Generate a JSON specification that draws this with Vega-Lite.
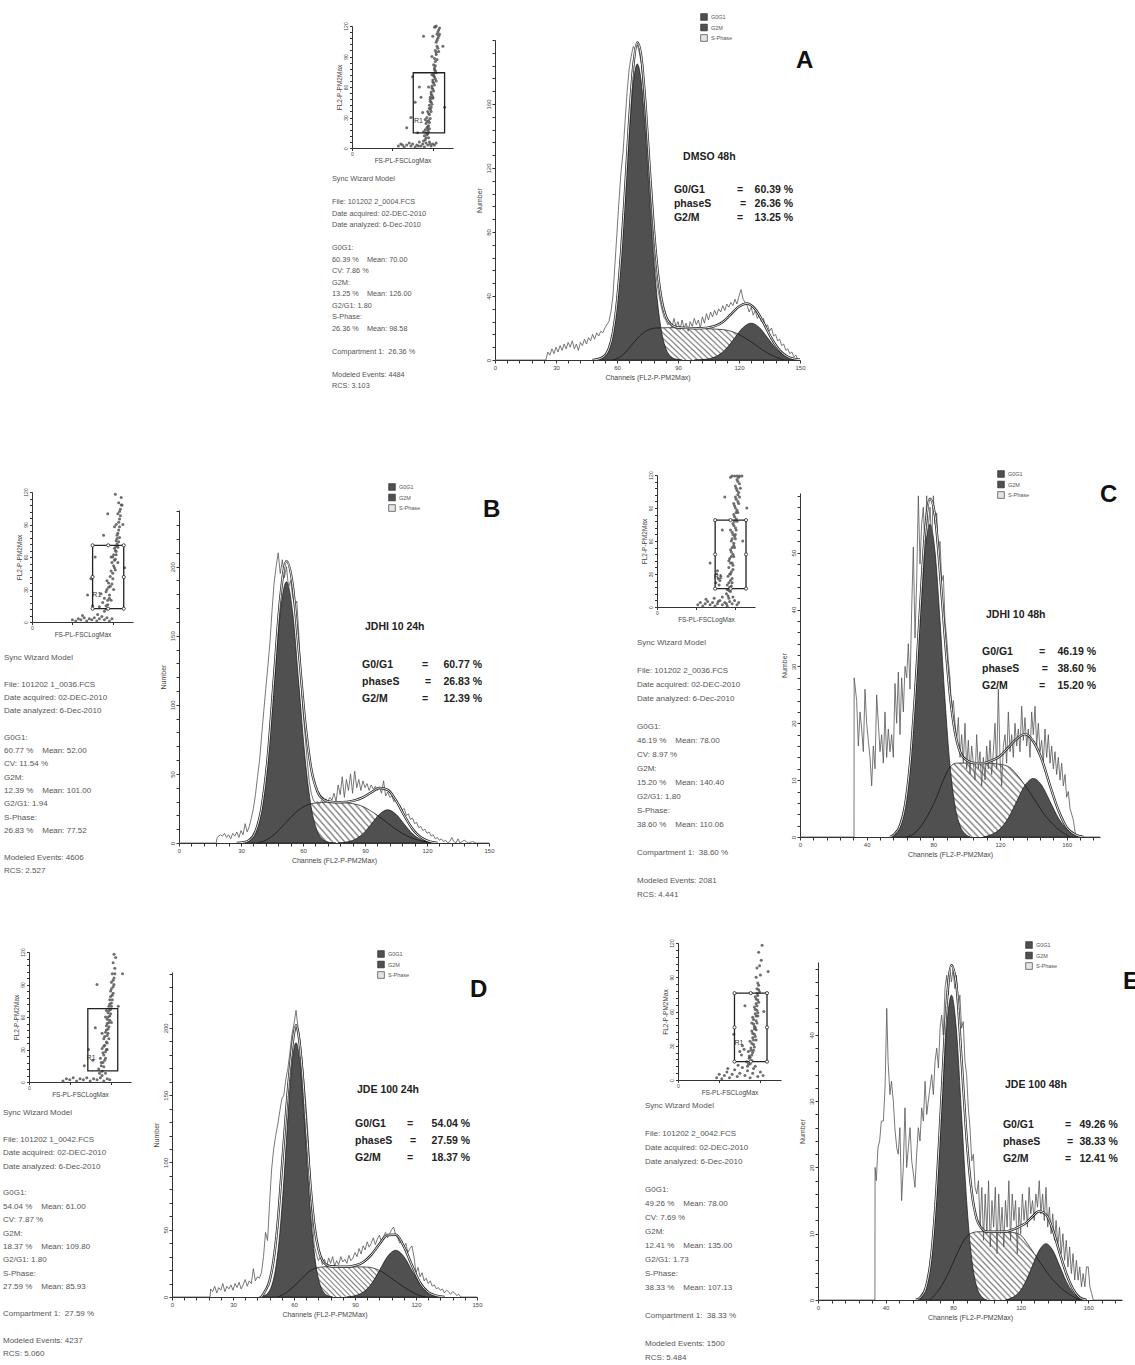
{
"$schema": "https://vega.github.io/schema/vega-lite/v6.json",
"background": "white",
"padding": 0,
"config": {
 "view": {"stroke": null},
 "concat": {"spacing": 0},
 "font": "Liberation Sans",
 "axis": {"grid": false, "labelFont": "Liberation Sans", "titleFont": "Liberation Sans", "labelColor": "#444", "titleColor": "#444", "titleFontWeight": "normal", "tickColor": "#333", "domainColor": "#333", "labelOverlap": false, "labelFlush": false, "labelPadding": 1, "titlePadding": 3, "tickSize": 3, "labelFontSize": 6, "titleFontSize": 7},
 "axisY": {"labelAngle": -90},
 "legend": {"orient": "none", "symbolType": "square", "symbolSize": 45, "symbolStrokeColor": "#222", "symbolStrokeWidth": 0.6, "labelFontSize": 5.5, "labelColor": "#555", "labelFont": "Liberation Sans", "rowPadding": 0.5, "labelOffset": 3, "padding": 0}
},
"datasets": {
 "hA": [
  {"s":"o","x":0,"y":0},{"s":"o","x":25,"y":0},{"s":"o","x":26,"y":5},{"s":"o","x":27,"y":3},{"s":"o","x":28,"y":7},{"s":"o","x":29,"y":4},{"s":"o","x":30,"y":8},{"s":"o","x":31,"y":5},{"s":"o","x":32,"y":9},{"s":"o","x":33,"y":6},{"s":"o","x":34,"y":10},{"s":"o","x":35,"y":7},{"s":"o","x":36,"y":11},{"s":"o","x":37,"y":8},{"s":"o","x":38,"y":12},{"s":"o","x":39,"y":7},{"s":"o","x":40,"y":10},{"s":"o","x":41,"y":6},{"s":"o","x":42,"y":11},{"s":"o","x":43,"y":9},{"s":"o","x":44,"y":13},{"s":"o","x":45,"y":10},{"s":"o","x":46,"y":14},{"s":"o","x":47,"y":12},{"s":"o","x":48,"y":16},{"s":"o","x":49,"y":13},{"s":"o","x":50,"y":17},{"s":"o","x":51,"y":15},{"s":"o","x":52,"y":18},{"s":"o","x":53,"y":17},{"s":"o","x":54,"y":20},{"s":"o","x":55,"y":22},{"s":"o","x":56,"y":24},{"s":"o","x":57,"y":30},{"s":"o","x":58,"y":40},{"s":"o","x":59,"y":60},{"s":"o","x":60,"y":80},{"s":"o","x":61,"y":100},{"s":"o","x":62,"y":118},{"s":"o","x":63,"y":130},{"s":"o","x":64,"y":150},{"s":"o","x":65,"y":168},{"s":"o","x":66,"y":182},{"s":"o","x":67,"y":190},{"s":"o","x":68,"y":196},{"s":"o","x":69,"y":194},{"s":"o","x":70,"y":197},{"s":"o","x":71,"y":192},{"s":"o","x":72,"y":185},{"s":"o","x":73,"y":170},{"s":"o","x":74,"y":150},{"s":"o","x":75,"y":130},{"s":"o","x":76,"y":110},{"s":"o","x":77,"y":88},{"s":"o","x":78,"y":70},{"s":"o","x":79,"y":55},{"s":"o","x":80,"y":45},{"s":"o","x":81,"y":38},{"s":"o","x":82,"y":32},{"s":"o","x":83,"y":27},{"s":"o","x":84,"y":25},{"s":"o","x":85,"y":22},{"s":"o","x":86,"y":24},{"s":"o","x":87,"y":20},{"s":"o","x":88,"y":26},{"s":"o","x":89,"y":21},{"s":"o","x":90,"y":24},{"s":"o","x":91,"y":19},{"s":"o","x":92,"y":25},{"s":"o","x":93,"y":20},{"s":"o","x":94,"y":23},{"s":"o","x":95,"y":18},{"s":"o","x":96,"y":24},{"s":"o","x":97,"y":21},{"s":"o","x":98,"y":26},{"s":"o","x":99,"y":22},{"s":"o","x":100,"y":25},{"s":"o","x":101,"y":20},{"s":"o","x":102,"y":27},{"s":"o","x":103,"y":23},{"s":"o","x":104,"y":29},{"s":"o","x":105,"y":25},{"s":"o","x":106,"y":30},{"s":"o","x":107,"y":27},{"s":"o","x":108,"y":31},{"s":"o","x":109,"y":28},{"s":"o","x":110,"y":32},{"s":"o","x":111,"y":30},{"s":"o","x":112,"y":34},{"s":"o","x":113,"y":31},{"s":"o","x":114,"y":35},{"s":"o","x":115,"y":33},{"s":"o","x":116,"y":36},{"s":"o","x":117,"y":34},{"s":"o","x":118,"y":38},{"s":"o","x":119,"y":35},{"s":"o","x":120,"y":40},{"s":"o","x":121,"y":44},{"s":"o","x":122,"y":38},{"s":"o","x":123,"y":36},{"s":"o","x":124,"y":34},{"s":"o","x":125,"y":30},{"s":"o","x":126,"y":33},{"s":"o","x":127,"y":28},{"s":"o","x":128,"y":31},{"s":"o","x":129,"y":26},{"s":"o","x":130,"y":28},{"s":"o","x":131,"y":24},{"s":"o","x":132,"y":26},{"s":"o","x":133,"y":21},{"s":"o","x":134,"y":22},{"s":"o","x":135,"y":18},{"s":"o","x":136,"y":20},{"s":"o","x":137,"y":15},{"s":"o","x":138,"y":16},{"s":"o","x":139,"y":12},{"s":"o","x":140,"y":13},{"s":"o","x":141,"y":9},{"s":"o","x":142,"y":10},{"s":"o","x":143,"y":6},{"s":"o","x":144,"y":7},{"s":"o","x":145,"y":4},{"s":"o","x":146,"y":5},{"s":"o","x":147,"y":2},{"s":"o","x":148,"y":3},{"s":"o","x":149,"y":0},{"s":"o","x":150,"y":0},
  {"s":"f","x":48,"y":0},{"s":"f","x":50,"y":0.3},{"s":"f","x":54,"y":2.7},{"s":"f","x":56,"y":7.2},{"s":"f","x":58,"y":17.1},{"s":"f","x":60,"y":36.4},{"s":"f","x":62,"y":66.7},{"s":"f","x":64,"y":106.5},{"s":"f","x":66,"y":149.5},{"s":"f","x":68,"y":183.5},{"s":"f","x":70,"y":198.5},{"s":"f","x":72,"y":189},{"s":"f","x":74,"y":160},{"s":"f","x":76,"y":121.2},{"s":"f","x":78,"y":83.9},{"s":"f","x":80,"y":55.4},{"s":"f","x":82,"y":37.2},{"s":"f","x":84,"y":27.4},{"s":"f","x":86,"y":22.9},{"s":"f","x":88,"y":21.1},{"s":"f","x":90,"y":20.3},{"s":"f","x":95,"y":20},{"s":"f","x":100,"y":19.8},{"s":"f","x":104,"y":20.1},{"s":"f","x":108,"y":21.1},{"s":"f","x":112,"y":23.7},{"s":"f","x":116,"y":28.5},{"s":"f","x":120,"y":33.4},{"s":"f","x":124,"y":35.3},{"s":"f","x":126,"y":34.2},{"s":"f","x":128,"y":31.8},{"s":"f","x":132,"y":23.4},{"s":"f","x":136,"y":13.5},{"s":"f","x":140,"y":6},{"s":"f","x":144,"y":2},{"s":"f","x":148,"y":0.5},{"s":"f","x":150,"y":0.2},
  {"s":"G0G1","x":48,"y":0},{"s":"G0G1","x":50,"y":0.3},{"s":"G0G1","x":52,"y":0.9},{"s":"G0G1","x":54,"y":2.7},{"s":"G0G1","x":56,"y":7.2},{"s":"G0G1","x":58,"y":17.1},{"s":"G0G1","x":60,"y":35.4},{"s":"G0G1","x":62,"y":64.2},{"s":"G0G1","x":64,"y":102},{"s":"G0G1","x":66,"y":142},{"s":"G0G1","x":68,"y":173},{"s":"G0G1","x":70,"y":185},{"s":"G0G1","x":72,"y":173},{"s":"G0G1","x":74,"y":142},{"s":"G0G1","x":76,"y":102},{"s":"G0G1","x":78,"y":64.2},{"s":"G0G1","x":80,"y":35.4},{"s":"G0G1","x":82,"y":17.1},{"s":"G0G1","x":84,"y":7.2},{"s":"G0G1","x":86,"y":2.7},{"s":"G0G1","x":88,"y":0.9},{"s":"G0G1","x":90,"y":0.3},{"s":"G0G1","x":92,"y":0},
  {"s":"G2M","x":98,"y":0},{"s":"G2M","x":102,"y":0.25},{"s":"G2M","x":106,"y":1},{"s":"G2M","x":110,"y":3.1},{"s":"G2M","x":114,"y":7.5},{"s":"G2M","x":118,"y":14},{"s":"G2M","x":122,"y":20.3},{"s":"G2M","x":126,"y":23},{"s":"G2M","x":130,"y":20.3},{"s":"G2M","x":134,"y":14},{"s":"G2M","x":138,"y":7.5},{"s":"G2M","x":142,"y":3.1},{"s":"G2M","x":146,"y":1},{"s":"G2M","x":150,"y":0.25},
  {"s":"S-Phase","x":58,"y":0},{"s":"S-Phase","x":61,"y":1.5},{"s":"S-Phase","x":64,"y":4.5},{"s":"S-Phase","x":67,"y":9},{"s":"S-Phase","x":70,"y":13.5},{"s":"S-Phase","x":73,"y":17},{"s":"S-Phase","x":76,"y":19.2},{"s":"S-Phase","x":79,"y":20},{"s":"S-Phase","x":85,"y":20.2},{"s":"S-Phase","x":95,"y":20},{"s":"S-Phase","x":105,"y":19.5},{"s":"S-Phase","x":112,"y":19},{"s":"S-Phase","x":116,"y":18},{"s":"S-Phase","x":120,"y":16},{"s":"S-Phase","x":124,"y":13},{"s":"S-Phase","x":128,"y":9.5},{"s":"S-Phase","x":132,"y":6},{"s":"S-Phase","x":136,"y":3},{"s":"S-Phase","x":140,"y":1},{"s":"S-Phase","x":142,"y":0}
 ],
 "hB": [
  {"s":"o","x":0,"y":0},{"s":"o","x":18,"y":0},{"s":"o","x":18.5,"y":4},{"s":"o","x":20,"y":6},{"s":"o","x":21,"y":5},{"s":"o","x":22,"y":7},{"s":"o","x":23,"y":4},{"s":"o","x":24,"y":6},{"s":"o","x":25,"y":3},{"s":"o","x":26,"y":7},{"s":"o","x":27,"y":5},{"s":"o","x":28,"y":8},{"s":"o","x":29,"y":4},{"s":"o","x":30,"y":9},{"s":"o","x":31,"y":6},{"s":"o","x":32,"y":14},{"s":"o","x":33,"y":8},{"s":"o","x":34,"y":12},{"s":"o","x":35,"y":18},{"s":"o","x":36,"y":25},{"s":"o","x":37,"y":35},{"s":"o","x":38,"y":48},{"s":"o","x":39,"y":60},{"s":"o","x":40,"y":78},{"s":"o","x":41,"y":95},{"s":"o","x":42,"y":112},{"s":"o","x":43,"y":128},{"s":"o","x":44,"y":145},{"s":"o","x":45,"y":168},{"s":"o","x":46,"y":188},{"s":"o","x":47,"y":200},{"s":"o","x":48,"y":210},{"s":"o","x":49,"y":195},{"s":"o","x":50,"y":205},{"s":"o","x":51,"y":192},{"s":"o","x":52,"y":200},{"s":"o","x":53,"y":185},{"s":"o","x":54,"y":190},{"s":"o","x":55,"y":178},{"s":"o","x":56,"y":172},{"s":"o","x":57,"y":175},{"s":"o","x":58,"y":150},{"s":"o","x":59,"y":120},{"s":"o","x":60,"y":95},{"s":"o","x":61,"y":78},{"s":"o","x":62,"y":60},{"s":"o","x":63,"y":45},{"s":"o","x":64,"y":36},{"s":"o","x":65,"y":31},{"s":"o","x":66,"y":29},{"s":"o","x":67,"y":30},{"s":"o","x":68,"y":28},{"s":"o","x":69,"y":31},{"s":"o","x":70,"y":29},{"s":"o","x":71,"y":32},{"s":"o","x":72,"y":30},{"s":"o","x":73,"y":33},{"s":"o","x":74,"y":31},{"s":"o","x":75,"y":36},{"s":"o","x":76,"y":30},{"s":"o","x":77,"y":42},{"s":"o","x":78,"y":35},{"s":"o","x":79,"y":48},{"s":"o","x":80,"y":33},{"s":"o","x":81,"y":46},{"s":"o","x":82,"y":38},{"s":"o","x":83,"y":50},{"s":"o","x":84,"y":36},{"s":"o","x":85,"y":52},{"s":"o","x":86,"y":40},{"s":"o","x":87,"y":46},{"s":"o","x":88,"y":38},{"s":"o","x":89,"y":45},{"s":"o","x":90,"y":40},{"s":"o","x":91,"y":43},{"s":"o","x":92,"y":38},{"s":"o","x":93,"y":42},{"s":"o","x":94,"y":39},{"s":"o","x":95,"y":41},{"s":"o","x":96,"y":38},{"s":"o","x":97,"y":40},{"s":"o","x":98,"y":36},{"s":"o","x":99,"y":45},{"s":"o","x":100,"y":34},{"s":"o","x":101,"y":37},{"s":"o","x":102,"y":33},{"s":"o","x":103,"y":34},{"s":"o","x":104,"y":30},{"s":"o","x":105,"y":31},{"s":"o","x":106,"y":28},{"s":"o","x":107,"y":27},{"s":"o","x":108,"y":24},{"s":"o","x":109,"y":25},{"s":"o","x":110,"y":20},{"s":"o","x":111,"y":21},{"s":"o","x":112,"y":17},{"s":"o","x":113,"y":18},{"s":"o","x":114,"y":14},{"s":"o","x":115,"y":15},{"s":"o","x":116,"y":11},{"s":"o","x":117,"y":12},{"s":"o","x":118,"y":9},{"s":"o","x":119,"y":10},{"s":"o","x":120,"y":7},{"s":"o","x":121,"y":8},{"s":"o","x":122,"y":5},{"s":"o","x":123,"y":6},{"s":"o","x":124,"y":3},{"s":"o","x":125,"y":4},{"s":"o","x":126,"y":2},{"s":"o","x":127,"y":3},{"s":"o","x":128,"y":1},{"s":"o","x":129,"y":2},{"s":"o","x":130,"y":0},{"s":"o","x":131,"y":1},{"s":"o","x":132,"y":4},{"s":"o","x":133,"y":1},{"s":"o","x":134,"y":0},{"s":"o","x":135,"y":3},{"s":"o","x":136,"y":0},{"s":"o","x":138,"y":2},{"s":"o","x":140,"y":0},{"s":"o","x":142,"y":1},{"s":"o","x":144,"y":0},{"s":"o","x":150,"y":0},
  {"s":"f","x":28,"y":0},{"s":"f","x":31,"y":0.4},{"s":"f","x":34,"y":2.1},{"s":"f","x":37,"y":8.3},{"s":"f","x":40,"y":26},{"s":"f","x":43,"y":63},{"s":"f","x":46,"y":120.7},{"s":"f","x":49,"y":177.3},{"s":"f","x":52,"y":204},{"s":"f","x":55,"y":186.8},{"s":"f","x":58,"y":138.7},{"s":"f","x":61,"y":88.2},{"s":"f","x":64,"y":53.6},{"s":"f","x":67,"y":37.3},{"s":"f","x":70,"y":31.4},{"s":"f","x":73,"y":29.9},{"s":"f","x":77,"y":29.5},{"s":"f","x":81,"y":29.7},{"s":"f","x":85,"y":30.8},{"s":"f","x":89,"y":33},{"s":"f","x":93,"y":36.6},{"s":"f","x":97,"y":39.8},{"s":"f","x":101,"y":38.4},{"s":"f","x":105,"y":30.8},{"s":"f","x":109,"y":19.9},{"s":"f","x":113,"y":10.2},{"s":"f","x":117,"y":4.2},{"s":"f","x":121,"y":1.2},{"s":"f","x":125,"y":0},
  {"s":"G0G1","x":28,"y":0},{"s":"G0G1","x":31,"y":0.4},{"s":"G0G1","x":34,"y":2.1},{"s":"G0G1","x":37,"y":8.3},{"s":"G0G1","x":40,"y":25.6},{"s":"G0G1","x":43,"y":61.4},{"s":"G0G1","x":46,"y":114.7},{"s":"G0G1","x":49,"y":166.8},{"s":"G0G1","x":52,"y":189},{"s":"G0G1","x":55,"y":166.8},{"s":"G0G1","x":58,"y":114.7},{"s":"G0G1","x":61,"y":61.4},{"s":"G0G1","x":64,"y":25.6},{"s":"G0G1","x":67,"y":8.3},{"s":"G0G1","x":70,"y":2.1},{"s":"G0G1","x":73,"y":0.4},{"s":"G0G1","x":76,"y":0},
  {"s":"G2M","x":77,"y":0},{"s":"G2M","x":81,"y":0.7},{"s":"G2M","x":85,"y":2.5},{"s":"G2M","x":89,"y":6.7},{"s":"G2M","x":93,"y":13.6},{"s":"G2M","x":97,"y":20.8},{"s":"G2M","x":101,"y":24},{"s":"G2M","x":105,"y":20.8},{"s":"G2M","x":109,"y":13.6},{"s":"G2M","x":113,"y":6.7},{"s":"G2M","x":117,"y":2.5},{"s":"G2M","x":121,"y":0.7},{"s":"G2M","x":125,"y":0},
  {"s":"S-Phase","x":38,"y":0},{"s":"S-Phase","x":42,"y":2},{"s":"S-Phase","x":46,"y":6},{"s":"S-Phase","x":50,"y":12},{"s":"S-Phase","x":54,"y":18.5},{"s":"S-Phase","x":58,"y":24},{"s":"S-Phase","x":62,"y":27.5},{"s":"S-Phase","x":66,"y":29},{"s":"S-Phase","x":72,"y":29.5},{"s":"S-Phase","x":78,"y":29.5},{"s":"S-Phase","x":84,"y":28.5},{"s":"S-Phase","x":88,"y":27},{"s":"S-Phase","x":92,"y":24},{"s":"S-Phase","x":96,"y":20},{"s":"S-Phase","x":100,"y":15.5},{"s":"S-Phase","x":104,"y":11},{"s":"S-Phase","x":108,"y":7},{"s":"S-Phase","x":112,"y":4},{"s":"S-Phase","x":116,"y":2},{"s":"S-Phase","x":120,"y":0.7},{"s":"S-Phase","x":124,"y":0}
 ],
 "hC": [
  {"s":"o","x":0,"y":0},{"s":"o","x":32.4,"y":0},{"s":"o","x":32.5,"y":28},{"s":"o","x":34,"y":24},{"s":"o","x":35,"y":16},{"s":"o","x":36,"y":22},{"s":"o","x":37,"y":19},{"s":"o","x":38,"y":15},{"s":"o","x":39,"y":26},{"s":"o","x":40,"y":20},{"s":"o","x":41,"y":17},{"s":"o","x":42,"y":14},{"s":"o","x":43,"y":9},{"s":"o","x":44,"y":16},{"s":"o","x":45,"y":12},{"s":"o","x":46,"y":25},{"s":"o","x":47,"y":20},{"s":"o","x":48,"y":15},{"s":"o","x":49,"y":18},{"s":"o","x":50,"y":13},{"s":"o","x":51,"y":22},{"s":"o","x":52,"y":14},{"s":"o","x":53,"y":19},{"s":"o","x":54,"y":15},{"s":"o","x":55,"y":18},{"s":"o","x":56,"y":14},{"s":"o","x":57,"y":27},{"s":"o","x":58,"y":20},{"s":"o","x":59,"y":29},{"s":"o","x":60,"y":18},{"s":"o","x":61,"y":28},{"s":"o","x":62,"y":22},{"s":"o","x":63,"y":30},{"s":"o","x":64,"y":28},{"s":"o","x":65,"y":34},{"s":"o","x":66,"y":26},{"s":"o","x":67,"y":40},{"s":"o","x":68,"y":51},{"s":"o","x":69,"y":35},{"s":"o","x":70,"y":45},{"s":"o","x":71,"y":60},{"s":"o","x":72,"y":48},{"s":"o","x":73,"y":55},{"s":"o","x":74,"y":58},{"s":"o","x":75,"y":50},{"s":"o","x":76,"y":60},{"s":"o","x":77,"y":54},{"s":"o","x":78,"y":58},{"s":"o","x":79,"y":52},{"s":"o","x":80,"y":60},{"s":"o","x":81,"y":55},{"s":"o","x":82,"y":57},{"s":"o","x":83,"y":50},{"s":"o","x":84,"y":52},{"s":"o","x":85,"y":45},{"s":"o","x":86,"y":46},{"s":"o","x":87,"y":38},{"s":"o","x":88,"y":35},{"s":"o","x":89,"y":31},{"s":"o","x":90,"y":28},{"s":"o","x":91,"y":22},{"s":"o","x":92,"y":24},{"s":"o","x":93,"y":20},{"s":"o","x":94,"y":17},{"s":"o","x":95,"y":21},{"s":"o","x":96,"y":14},{"s":"o","x":97,"y":18},{"s":"o","x":98,"y":13},{"s":"o","x":99,"y":20},{"s":"o","x":100,"y":12},{"s":"o","x":101,"y":17},{"s":"o","x":102,"y":11},{"s":"o","x":103,"y":16},{"s":"o","x":104,"y":13},{"s":"o","x":105,"y":10},{"s":"o","x":106,"y":18},{"s":"o","x":107,"y":12},{"s":"o","x":108,"y":15},{"s":"o","x":109,"y":9},{"s":"o","x":110,"y":14},{"s":"o","x":111,"y":10},{"s":"o","x":112,"y":16},{"s":"o","x":113,"y":12},{"s":"o","x":114,"y":17},{"s":"o","x":115,"y":11},{"s":"o","x":116,"y":15},{"s":"o","x":117,"y":20},{"s":"o","x":118,"y":12},{"s":"o","x":119,"y":26},{"s":"o","x":120,"y":14},{"s":"o","x":121,"y":9},{"s":"o","x":122,"y":16},{"s":"o","x":123,"y":18},{"s":"o","x":124,"y":13},{"s":"o","x":125,"y":22},{"s":"o","x":126,"y":15},{"s":"o","x":127,"y":18},{"s":"o","x":128,"y":14},{"s":"o","x":129,"y":20},{"s":"o","x":130,"y":16},{"s":"o","x":131,"y":19},{"s":"o","x":132,"y":15},{"s":"o","x":133,"y":23},{"s":"o","x":134,"y":17},{"s":"o","x":135,"y":21},{"s":"o","x":136,"y":16},{"s":"o","x":137,"y":19},{"s":"o","x":138,"y":14},{"s":"o","x":139,"y":22},{"s":"o","x":140,"y":18},{"s":"o","x":141,"y":23},{"s":"o","x":142,"y":16},{"s":"o","x":143,"y":20},{"s":"o","x":144,"y":15},{"s":"o","x":145,"y":17},{"s":"o","x":146,"y":13},{"s":"o","x":147,"y":19},{"s":"o","x":148,"y":14},{"s":"o","x":149,"y":18},{"s":"o","x":150,"y":13},{"s":"o","x":151,"y":16},{"s":"o","x":152,"y":12},{"s":"o","x":153,"y":15},{"s":"o","x":154,"y":11},{"s":"o","x":155,"y":14},{"s":"o","x":156,"y":10},{"s":"o","x":157,"y":13},{"s":"o","x":158,"y":9},{"s":"o","x":159,"y":11},{"s":"o","x":160,"y":7},{"s":"o","x":161,"y":8},{"s":"o","x":162,"y":5},{"s":"o","x":163,"y":4},{"s":"o","x":164,"y":3},{"s":"o","x":165,"y":1},{"s":"o","x":166,"y":0},{"s":"o","x":180,"y":0},
  {"s":"f","x":54,"y":0},{"s":"f","x":57,"y":0.6},{"s":"f","x":60,"y":2},{"s":"f","x":63,"y":5.5},{"s":"f","x":66,"y":12.8},{"s":"f","x":69,"y":24.9},{"s":"f","x":72,"y":39.9},{"s":"f","x":75,"y":53.5},{"s":"f","x":78,"y":59.5},{"s":"f","x":81,"y":56.5},{"s":"f","x":84,"y":46.6},{"s":"f","x":87,"y":34.9},{"s":"f","x":90,"y":24.9},{"s":"f","x":93,"y":18.4},{"s":"f","x":96,"y":15},{"s":"f","x":100,"y":13.5},{"s":"f","x":105,"y":13},{"s":"f","x":110,"y":13},{"s":"f","x":115,"y":13.45},{"s":"f","x":120,"y":14.2},{"s":"f","x":125,"y":15.75},{"s":"f","x":130,"y":17.25},{"s":"f","x":135,"y":18.1},{"s":"f","x":140,"y":16.8},{"s":"f","x":145,"y":13.7},{"s":"f","x":150,"y":9.05},{"s":"f","x":155,"y":4.75},{"s":"f","x":160,"y":1.7},{"s":"f","x":165,"y":0.45},{"s":"f","x":170,"y":0},
  {"s":"G0G1","x":54,"y":0},{"s":"G0G1","x":57,"y":0.6},{"s":"G0G1","x":60,"y":2},{"s":"G0G1","x":63,"y":5.5},{"s":"G0G1","x":66,"y":12.6},{"s":"G0G1","x":69,"y":24.1},{"s":"G0G1","x":72,"y":38.1},{"s":"G0G1","x":75,"y":50.2},{"s":"G0G1","x":78,"y":55},{"s":"G0G1","x":81,"y":50.2},{"s":"G0G1","x":84,"y":38.1},{"s":"G0G1","x":87,"y":24.1},{"s":"G0G1","x":90,"y":12.6},{"s":"G0G1","x":93,"y":5.5},{"s":"G0G1","x":96,"y":2},{"s":"G0G1","x":99,"y":0.6},{"s":"G0G1","x":102,"y":0},
  {"s":"G2M","x":110,"y":0},{"s":"G2M","x":115,"y":0.45},{"s":"G2M","x":120,"y":1.4},{"s":"G2M","x":125,"y":3.35},{"s":"G2M","x":130,"y":6.25},{"s":"G2M","x":135,"y":9.1},{"s":"G2M","x":140,"y":10.3},{"s":"G2M","x":145,"y":9.1},{"s":"G2M","x":150,"y":6.25},{"s":"G2M","x":155,"y":3.35},{"s":"G2M","x":160,"y":1.4},{"s":"G2M","x":165,"y":0.45},{"s":"G2M","x":170,"y":0},
  {"s":"S-Phase","x":64,"y":0},{"s":"S-Phase","x":66,"y":0.2},{"s":"S-Phase","x":70,"y":1},{"s":"S-Phase","x":74,"y":2.5},{"s":"S-Phase","x":78,"y":4.5},{"s":"S-Phase","x":82,"y":7},{"s":"S-Phase","x":86,"y":10},{"s":"S-Phase","x":90,"y":12.3},{"s":"S-Phase","x":94,"y":13},{"s":"S-Phase","x":100,"y":13},{"s":"S-Phase","x":110,"y":13},{"s":"S-Phase","x":120,"y":12.8},{"s":"S-Phase","x":126,"y":12.2},{"s":"S-Phase","x":130,"y":11},{"s":"S-Phase","x":134,"y":9.5},{"s":"S-Phase","x":138,"y":7.8},{"s":"S-Phase","x":142,"y":6},{"s":"S-Phase","x":146,"y":4.2},{"s":"S-Phase","x":150,"y":2.8},{"s":"S-Phase","x":154,"y":1.6},{"s":"S-Phase","x":158,"y":0.7},{"s":"S-Phase","x":162,"y":0}
 ],
 "hD": [
  {"s":"o","x":0,"y":0},{"s":"o","x":18.7,"y":0},{"s":"o","x":19,"y":6},{"s":"o","x":20,"y":4},{"s":"o","x":21,"y":8},{"s":"o","x":22,"y":3},{"s":"o","x":23,"y":7},{"s":"o","x":24,"y":5},{"s":"o","x":25,"y":10},{"s":"o","x":26,"y":4},{"s":"o","x":27,"y":8},{"s":"o","x":28,"y":6},{"s":"o","x":29,"y":9},{"s":"o","x":30,"y":5},{"s":"o","x":31,"y":10},{"s":"o","x":32,"y":7},{"s":"o","x":33,"y":11},{"s":"o","x":34,"y":6},{"s":"o","x":35,"y":9},{"s":"o","x":36,"y":13},{"s":"o","x":37,"y":8},{"s":"o","x":38,"y":12},{"s":"o","x":39,"y":10},{"s":"o","x":40,"y":21},{"s":"o","x":41,"y":12},{"s":"o","x":42,"y":15},{"s":"o","x":43,"y":14},{"s":"o","x":44,"y":18},{"s":"o","x":45,"y":30},{"s":"o","x":46,"y":48},{"s":"o","x":47,"y":42},{"s":"o","x":48,"y":70},{"s":"o","x":49,"y":95},{"s":"o","x":50,"y":110},{"s":"o","x":51,"y":120},{"s":"o","x":52,"y":128},{"s":"o","x":53,"y":138},{"s":"o","x":54,"y":147},{"s":"o","x":55,"y":150},{"s":"o","x":56,"y":162},{"s":"o","x":57,"y":170},{"s":"o","x":58,"y":182},{"s":"o","x":59,"y":195},{"s":"o","x":60,"y":203},{"s":"o","x":61,"y":213},{"s":"o","x":62,"y":200},{"s":"o","x":63,"y":190},{"s":"o","x":64,"y":175},{"s":"o","x":65,"y":158},{"s":"o","x":66,"y":140},{"s":"o","x":67,"y":118},{"s":"o","x":68,"y":85},{"s":"o","x":69,"y":56},{"s":"o","x":70,"y":38},{"s":"o","x":71,"y":32},{"s":"o","x":72,"y":27},{"s":"o","x":73,"y":30},{"s":"o","x":74,"y":24},{"s":"o","x":75,"y":28},{"s":"o","x":76,"y":22},{"s":"o","x":77,"y":29},{"s":"o","x":78,"y":25},{"s":"o","x":79,"y":30},{"s":"o","x":80,"y":23},{"s":"o","x":81,"y":27},{"s":"o","x":82,"y":24},{"s":"o","x":83,"y":30},{"s":"o","x":84,"y":26},{"s":"o","x":85,"y":28},{"s":"o","x":86,"y":25},{"s":"o","x":87,"y":31},{"s":"o","x":88,"y":27},{"s":"o","x":89,"y":29},{"s":"o","x":90,"y":33},{"s":"o","x":91,"y":30},{"s":"o","x":92,"y":36},{"s":"o","x":93,"y":32},{"s":"o","x":94,"y":38},{"s":"o","x":95,"y":35},{"s":"o","x":96,"y":41},{"s":"o","x":97,"y":37},{"s":"o","x":98,"y":40},{"s":"o","x":99,"y":44},{"s":"o","x":100,"y":39},{"s":"o","x":101,"y":43},{"s":"o","x":102,"y":46},{"s":"o","x":103,"y":41},{"s":"o","x":104,"y":45},{"s":"o","x":105,"y":48},{"s":"o","x":106,"y":44},{"s":"o","x":107,"y":47},{"s":"o","x":108,"y":50},{"s":"o","x":109,"y":52},{"s":"o","x":110,"y":46},{"s":"o","x":111,"y":44},{"s":"o","x":112,"y":40},{"s":"o","x":113,"y":42},{"s":"o","x":114,"y":37},{"s":"o","x":115,"y":40},{"s":"o","x":116,"y":33},{"s":"o","x":117,"y":36},{"s":"o","x":118,"y":38},{"s":"o","x":119,"y":30},{"s":"o","x":120,"y":18},{"s":"o","x":121,"y":22},{"s":"o","x":122,"y":15},{"s":"o","x":123,"y":18},{"s":"o","x":124,"y":12},{"s":"o","x":125,"y":14},{"s":"o","x":126,"y":10},{"s":"o","x":127,"y":12},{"s":"o","x":128,"y":8},{"s":"o","x":129,"y":9},{"s":"o","x":130,"y":6},{"s":"o","x":131,"y":7},{"s":"o","x":132,"y":5},{"s":"o","x":133,"y":6},{"s":"o","x":134,"y":3},{"s":"o","x":135,"y":5},{"s":"o","x":136,"y":4},{"s":"o","x":137,"y":2},{"s":"o","x":138,"y":4},{"s":"o","x":139,"y":3},{"s":"o","x":140,"y":1},{"s":"o","x":141,"y":2},{"s":"o","x":142,"y":0},{"s":"o","x":150,"y":0},
  {"s":"f","x":44,"y":0},{"s":"f","x":46,"y":5},{"s":"f","x":48,"y":12},{"s":"f","x":50,"y":28},{"s":"f","x":52,"y":55},{"s":"f","x":54,"y":95},{"s":"f","x":56,"y":135},{"s":"f","x":58,"y":170},{"s":"f","x":60,"y":196},{"s":"f","x":61,"y":202},{"s":"f","x":62,"y":197},{"s":"f","x":64,"y":169.4},{"s":"f","x":66,"y":126.3},{"s":"f","x":68,"y":84.7},{"s":"f","x":70,"y":53.5},{"s":"f","x":72,"y":35.6},{"s":"f","x":74,"y":27.1},{"s":"f","x":76,"y":23.9},{"s":"f","x":78,"y":22.8},{"s":"f","x":82,"y":22.5},{"s":"f","x":86,"y":22.5},{"s":"f","x":90,"y":23.4},{"s":"f","x":94,"y":25.9},{"s":"f","x":98,"y":31.3},{"s":"f","x":102,"y":39.3},{"s":"f","x":106,"y":46.1},{"s":"f","x":110,"y":46.3},{"s":"f","x":114,"y":37.6},{"s":"f","x":118,"y":23.6},{"s":"f","x":122,"y":10.6},{"s":"f","x":126,"y":3.6},{"s":"f","x":130,"y":1},{"s":"f","x":134,"y":0},
  {"s":"G0G1","x":43,"y":0},{"s":"G0G1","x":45,"y":0.7},{"s":"G0G1","x":47,"y":2.7},{"s":"G0G1","x":49,"y":8.3},{"s":"G0G1","x":51,"y":21.5},{"s":"G0G1","x":53,"y":47},{"s":"G0G1","x":55,"y":86.4},{"s":"G0G1","x":57,"y":133.4},{"s":"G0G1","x":59,"y":173.3},{"s":"G0G1","x":61,"y":189},{"s":"G0G1","x":63,"y":173.3},{"s":"G0G1","x":65,"y":133.4},{"s":"G0G1","x":67,"y":86.4},{"s":"G0G1","x":69,"y":47},{"s":"G0G1","x":71,"y":21.5},{"s":"G0G1","x":73,"y":8.3},{"s":"G0G1","x":75,"y":2.7},{"s":"G0G1","x":77,"y":0.7},{"s":"G0G1","x":79,"y":0},
  {"s":"G2M","x":86,"y":0},{"s":"G2M","x":90,"y":1},{"s":"G2M","x":94,"y":3.6},{"s":"G2M","x":98,"y":9.6},{"s":"G2M","x":102,"y":19.6},{"s":"G2M","x":106,"y":30.1},{"s":"G2M","x":110,"y":34.7},{"s":"G2M","x":114,"y":30.1},{"s":"G2M","x":118,"y":19.6},{"s":"G2M","x":122,"y":9.6},{"s":"G2M","x":126,"y":3.6},{"s":"G2M","x":130,"y":1},{"s":"G2M","x":134,"y":0},
  {"s":"S-Phase","x":52,"y":0},{"s":"S-Phase","x":56,"y":3},{"s":"S-Phase","x":60,"y":8},{"s":"S-Phase","x":64,"y":14},{"s":"S-Phase","x":68,"y":19.5},{"s":"S-Phase","x":72,"y":22},{"s":"S-Phase","x":76,"y":22.5},{"s":"S-Phase","x":85,"y":22.5},{"s":"S-Phase","x":95,"y":22.3},{"s":"S-Phase","x":99,"y":21.5},{"s":"S-Phase","x":103,"y":19},{"s":"S-Phase","x":107,"y":15},{"s":"S-Phase","x":111,"y":10.5},{"s":"S-Phase","x":115,"y":6.5},{"s":"S-Phase","x":119,"y":3},{"s":"S-Phase","x":122,"y":1},{"s":"S-Phase","x":125,"y":0}
 ],
 "hE": [
  {"s":"o","x":0,"y":0},{"s":"o","x":33.7,"y":0},{"s":"o","x":33.8,"y":20},{"s":"o","x":34.5,"y":18},{"s":"o","x":35.5,"y":23},{"s":"o","x":36.5,"y":24},{"s":"o","x":37.5,"y":27},{"s":"o","x":38.7,"y":27},{"s":"o","x":39.7,"y":32},{"s":"o","x":40.7,"y":44},{"s":"o","x":41.5,"y":36},{"s":"o","x":42.6,"y":31},{"s":"o","x":43.5,"y":33},{"s":"o","x":44.6,"y":30},{"s":"o","x":45.5,"y":26},{"s":"o","x":46.6,"y":23},{"s":"o","x":47.5,"y":22},{"s":"o","x":48.5,"y":26},{"s":"o","x":49.5,"y":15},{"s":"o","x":50.5,"y":20},{"s":"o","x":51.5,"y":29},{"s":"o","x":52.5,"y":20},{"s":"o","x":53.5,"y":23},{"s":"o","x":54.5,"y":26},{"s":"o","x":55.5,"y":21},{"s":"o","x":56.5,"y":19},{"s":"o","x":57.4,"y":17},{"s":"o","x":58.4,"y":22},{"s":"o","x":59.4,"y":26},{"s":"o","x":60.4,"y":24},{"s":"o","x":61.4,"y":29},{"s":"o","x":62.4,"y":27},{"s":"o","x":63.4,"y":33},{"s":"o","x":64.4,"y":28},{"s":"o","x":65.3,"y":30},{"s":"o","x":66.3,"y":32},{"s":"o","x":67.3,"y":34},{"s":"o","x":68.3,"y":31},{"s":"o","x":69.3,"y":36},{"s":"o","x":70.3,"y":38},{"s":"o","x":71.3,"y":35},{"s":"o","x":72.3,"y":41},{"s":"o","x":73.2,"y":43},{"s":"o","x":74.2,"y":40},{"s":"o","x":75.2,"y":47},{"s":"o","x":76.2,"y":49},{"s":"o","x":77.2,"y":46},{"s":"o","x":78,"y":50},{"s":"o","x":79,"y":48},{"s":"o","x":80,"y":50},{"s":"o","x":81,"y":47},{"s":"o","x":82,"y":49},{"s":"o","x":83,"y":44},{"s":"o","x":84,"y":46},{"s":"o","x":85,"y":41},{"s":"o","x":86,"y":42},{"s":"o","x":87,"y":36},{"s":"o","x":88,"y":34},{"s":"o","x":89,"y":29},{"s":"o","x":90,"y":26},{"s":"o","x":91,"y":21},{"s":"o","x":92,"y":22},{"s":"o","x":93,"y":17},{"s":"o","x":94,"y":16},{"s":"o","x":95,"y":18},{"s":"o","x":96,"y":11},{"s":"o","x":97,"y":17},{"s":"o","x":98,"y":9},{"s":"o","x":99,"y":16},{"s":"o","x":100,"y":10},{"s":"o","x":101,"y":18},{"s":"o","x":102,"y":8},{"s":"o","x":103,"y":15},{"s":"o","x":104,"y":11},{"s":"o","x":105,"y":17},{"s":"o","x":106,"y":7},{"s":"o","x":107,"y":16},{"s":"o","x":108,"y":10},{"s":"o","x":109,"y":14},{"s":"o","x":110,"y":8},{"s":"o","x":111,"y":15},{"s":"o","x":112,"y":11},{"s":"o","x":113,"y":18},{"s":"o","x":114,"y":9},{"s":"o","x":115,"y":16},{"s":"o","x":116,"y":12},{"s":"o","x":117,"y":15},{"s":"o","x":118,"y":7},{"s":"o","x":119,"y":14},{"s":"o","x":120,"y":10},{"s":"o","x":121,"y":16},{"s":"o","x":122,"y":12},{"s":"o","x":123,"y":15},{"s":"o","x":124,"y":11},{"s":"o","x":125,"y":17},{"s":"o","x":126,"y":13},{"s":"o","x":127,"y":15},{"s":"o","x":128,"y":12},{"s":"o","x":129,"y":16},{"s":"o","x":130,"y":14},{"s":"o","x":131,"y":18},{"s":"o","x":132,"y":13},{"s":"o","x":133,"y":16},{"s":"o","x":134,"y":12},{"s":"o","x":135,"y":17},{"s":"o","x":136,"y":11},{"s":"o","x":137,"y":14},{"s":"o","x":138,"y":10},{"s":"o","x":139,"y":13},{"s":"o","x":140,"y":9},{"s":"o","x":141,"y":12},{"s":"o","x":142,"y":8},{"s":"o","x":143,"y":11},{"s":"o","x":144,"y":7},{"s":"o","x":145,"y":10},{"s":"o","x":146,"y":6},{"s":"o","x":147,"y":9},{"s":"o","x":148,"y":5},{"s":"o","x":149,"y":8},{"s":"o","x":150,"y":4},{"s":"o","x":151,"y":7},{"s":"o","x":152,"y":3},{"s":"o","x":153,"y":6},{"s":"o","x":154,"y":3},{"s":"o","x":155,"y":5},{"s":"o","x":156,"y":2},{"s":"o","x":157,"y":4},{"s":"o","x":158,"y":2},{"s":"o","x":159,"y":5},{"s":"o","x":160,"y":5},{"s":"o","x":161,"y":2},{"s":"o","x":162,"y":1},{"s":"o","x":163,"y":0},{"s":"o","x":180,"y":0},
  {"s":"f","x":58,"y":0},{"s":"f","x":61,"y":0.5},{"s":"f","x":64,"y":2},{"s":"f","x":67,"y":6.5},{"s":"f","x":70,"y":16},{"s":"f","x":73,"y":29.9},{"s":"f","x":76,"y":44.1},{"s":"f","x":79,"y":50.5},{"s":"f","x":82,"y":47.4},{"s":"f","x":85,"y":36.2},{"s":"f","x":88,"y":24.4},{"s":"f","x":91,"y":16.3},{"s":"f","x":94,"y":12.2},{"s":"f","x":97,"y":10.8},{"s":"f","x":100,"y":10.3},{"s":"f","x":105,"y":10.3},{"s":"f","x":110,"y":10.3},{"s":"f","x":115,"y":10.6},{"s":"f","x":119,"y":11.05},{"s":"f","x":123,"y":11.6},{"s":"f","x":127,"y":12.6},{"s":"f","x":131,"y":13.4},{"s":"f","x":135,"y":12.9},{"s":"f","x":139,"y":10.6},{"s":"f","x":143,"y":7.2},{"s":"f","x":147,"y":4},{"s":"f","x":151,"y":1.65},{"s":"f","x":155,"y":0.37},{"s":"f","x":159,"y":0},
  {"s":"G0G1","x":58,"y":0},{"s":"G0G1","x":61,"y":0.5},{"s":"G0G1","x":64,"y":2},{"s":"G0G1","x":67,"y":6.2},{"s":"G0G1","x":70,"y":15},{"s":"G0G1","x":73,"y":27.9},{"s":"G0G1","x":76,"y":40.6},{"s":"G0G1","x":79,"y":46},{"s":"G0G1","x":82,"y":40.6},{"s":"G0G1","x":85,"y":27.9},{"s":"G0G1","x":88,"y":15},{"s":"G0G1","x":91,"y":6.2},{"s":"G0G1","x":94,"y":2},{"s":"G0G1","x":97,"y":0.5},{"s":"G0G1","x":100,"y":0},
  {"s":"G2M","x":111,"y":0},{"s":"G2M","x":115,"y":0.37},{"s":"G2M","x":119,"y":1.15},{"s":"G2M","x":123,"y":2.8},{"s":"G2M","x":127,"y":5.2},{"s":"G2M","x":131,"y":7.5},{"s":"G2M","x":135,"y":8.5},{"s":"G2M","x":139,"y":7.5},{"s":"G2M","x":143,"y":5.2},{"s":"G2M","x":147,"y":2.8},{"s":"G2M","x":151,"y":1.15},{"s":"G2M","x":155,"y":0.37},{"s":"G2M","x":159,"y":0},
  {"s":"S-Phase","x":66,"y":0},{"s":"S-Phase","x":70,"y":1},{"s":"S-Phase","x":74,"y":2.5},{"s":"S-Phase","x":78,"y":4.5},{"s":"S-Phase","x":82,"y":6.8},{"s":"S-Phase","x":86,"y":8.8},{"s":"S-Phase","x":90,"y":10},{"s":"S-Phase","x":95,"y":10.3},{"s":"S-Phase","x":105,"y":10.3},{"s":"S-Phase","x":115,"y":10.2},{"s":"S-Phase","x":120,"y":9.8},{"s":"S-Phase","x":124,"y":8.5},{"s":"S-Phase","x":128,"y":7},{"s":"S-Phase","x":132,"y":5.5},{"s":"S-Phase","x":136,"y":4},{"s":"S-Phase","x":140,"y":2.8},{"s":"S-Phase","x":144,"y":1.8},{"s":"S-Phase","x":148,"y":1},{"s":"S-Phase","x":152,"y":0.4},{"s":"S-Phase","x":155,"y":0}
 ],
 "scA": [{"x":55,"y":2},{"x":58,"y":4},{"x":62,"y":1},{"x":65,"y":3},{"x":68,"y":5},{"x":70,"y":2},{"x":72,"y":4},{"x":75,"y":1},{"x":77,"y":3},{"x":80,"y":6},{"x":82,"y":2},{"x":84,"y":4},{"x":86,"y":1},{"x":88,"y":5},{"x":90,"y":3},{"x":92,"y":6},{"x":94,"y":2},{"x":96,"y":4},{"x":98,"y":3},{"x":100,"y":5},{"x":87,"y":8},{"x":91,"y":10},{"x":60,"y":3},{"x":79,"y":2},{"x":85,"y":7},{"x":93,"y":4},{"x":86,"y":12},{"x":88,"y":15},{"x":87,"y":18},{"x":89,"y":20},{"x":90,"y":14},{"x":88,"y":24},{"x":91,"y":27},{"x":89,"y":30},{"x":92,"y":33},{"x":90,"y":36},{"x":93,"y":38},{"x":91,"y":22},{"x":87,"y":28},{"x":85,"y":16},{"x":84,"y":35},{"x":90,"y":18},{"x":92,"y":25},{"x":92,"y":42},{"x":94,"y":45},{"x":93,"y":48},{"x":95,"y":52},{"x":94,"y":55},{"x":96,"y":58},{"x":95,"y":61},{"x":97,"y":64},{"x":96,"y":67},{"x":98,"y":70},{"x":97,"y":73},{"x":99,"y":76},{"x":93,"y":50},{"x":91,"y":60},{"x":95,"y":72},{"x":98,"y":79},{"x":100,"y":66},{"x":94,"y":40},{"x":96,"y":50},{"x":97,"y":82},{"x":99,"y":85},{"x":98,"y":88},{"x":100,"y":92},{"x":99,"y":96},{"x":101,"y":100},{"x":100,"y":104},{"x":102,"y":108},{"x":101,"y":112},{"x":103,"y":116},{"x":99,"y":119},{"x":104,"y":118},{"x":96,"y":110},{"x":103,"y":95},{"x":95,"y":90},{"x":100,"y":120},{"x":98,"y":119},{"x":70,"y":30},{"x":75,"y":45},{"x":80,"y":60},{"x":65,"y":20},{"x":78,"y":15},{"x":82,"y":50},{"x":72,"y":70},{"x":110,"y":40},{"x":108,"y":100},{"x":85,"y":110},{"x":88,"y":10},{"x":89,"y":13},{"x":91,"y":16},{"x":90,"y":21},{"x":92,"y":19},{"x":89,"y":26},{"x":93,"y":29},{"x":91,"y":34},{"x":94,"y":36},{"x":92,"y":39},{"x":95,"y":43},{"x":93,"y":46},{"x":96,"y":49},{"x":94,"y":53},{"x":97,"y":56},{"x":95,"y":59},{"x":98,"y":62},{"x":96,"y":65},{"x":99,"y":68},{"x":97,"y":71},{"x":100,"y":74},{"x":98,"y":77},{"x":99,"y":81},{"x":101,"y":87},{"x":100,"y":94},{"x":102,"y":98},{"x":101,"y":106},{"x":103,"y":110},{"x":102,"y":114},{"x":104,"y":112}],
 "scB": [{"x":48,"y":2},{"x":52,"y":1},{"x":55,"y":3},{"x":58,"y":2},{"x":62,"y":4},{"x":65,"y":1},{"x":68,"y":3},{"x":71,"y":2},{"x":74,"y":4},{"x":77,"y":1},{"x":80,"y":3},{"x":83,"y":5},{"x":86,"y":2},{"x":89,"y":4},{"x":92,"y":1},{"x":95,"y":3},{"x":60,"y":6},{"x":78,"y":7},{"x":80,"y":14},{"x":84,"y":18},{"x":88,"y":12},{"x":86,"y":22},{"x":90,"y":16},{"x":92,"y":25},{"x":88,"y":28},{"x":94,"y":20},{"x":91,"y":32},{"x":95,"y":35},{"x":89,"y":38},{"x":97,"y":30},{"x":93,"y":42},{"x":82,"y":26},{"x":96,"y":45},{"x":98,"y":50},{"x":95,"y":55},{"x":99,"y":58},{"x":97,"y":62},{"x":100,"y":65},{"x":98,"y":68},{"x":101,"y":72},{"x":99,"y":48},{"x":102,"y":55},{"x":94,"y":60},{"x":100,"y":75},{"x":101,"y":80},{"x":103,"y":85},{"x":100,"y":90},{"x":104,"y":95},{"x":102,"y":100},{"x":105,"y":104},{"x":103,"y":110},{"x":106,"y":115},{"x":98,"y":88},{"x":104,"y":78},{"x":99,"y":118},{"x":107,"y":108},{"x":70,"y":40},{"x":75,"y":60},{"x":85,"y":80},{"x":110,"y":50},{"x":66,"y":25},{"x":72,"y":15},{"x":108,"y":90},{"x":90,"y":100},{"x":86,"y":10},{"x":88,"y":15},{"x":90,"y":20},{"x":92,"y":22},{"x":89,"y":30},{"x":93,"y":33},{"x":91,"y":36},{"x":96,"y":40},{"x":94,"y":47},{"x":97,"y":52},{"x":98,"y":57},{"x":96,"y":60},{"x":100,"y":62},{"x":99,"y":66},{"x":102,"y":69},{"x":100,"y":70},{"x":103,"y":74},{"x":101,"y":77},{"x":102,"y":82},{"x":104,"y":88},{"x":103,"y":92},{"x":105,"y":98},{"x":104,"y":102},{"x":106,"y":108}],
 "scC": [{"x":50,"y":2},{"x":53,"y":4},{"x":56,"y":1},{"x":59,"y":3},{"x":62,"y":5},{"x":65,"y":2},{"x":68,"y":4},{"x":71,"y":1},{"x":74,"y":3},{"x":77,"y":6},{"x":80,"y":2},{"x":83,"y":4},{"x":86,"y":1},{"x":89,"y":5},{"x":92,"y":3},{"x":95,"y":6},{"x":98,"y":2},{"x":100,"y":4},{"x":60,"y":7},{"x":70,"y":8},{"x":80,"y":9},{"x":88,"y":8},{"x":75,"y":5},{"x":85,"y":3},{"x":93,"y":9},{"x":85,"y":12},{"x":88,"y":15},{"x":86,"y":20},{"x":90,"y":24},{"x":87,"y":28},{"x":91,"y":32},{"x":88,"y":36},{"x":92,"y":40},{"x":89,"y":44},{"x":93,"y":48},{"x":90,"y":52},{"x":94,"y":56},{"x":91,"y":60},{"x":95,"y":64},{"x":92,"y":68},{"x":96,"y":72},{"x":93,"y":76},{"x":97,"y":80},{"x":94,"y":84},{"x":98,"y":88},{"x":95,"y":92},{"x":99,"y":96},{"x":96,"y":100},{"x":100,"y":104},{"x":97,"y":108},{"x":101,"y":112},{"x":98,"y":116},{"x":89,"y":18},{"x":92,"y":22},{"x":90,"y":30},{"x":93,"y":34},{"x":88,"y":42},{"x":91,"y":50},{"x":94,"y":58},{"x":92,"y":62},{"x":96,"y":66},{"x":90,"y":70},{"x":95,"y":78},{"x":97,"y":86},{"x":94,"y":94},{"x":99,"y":102},{"x":96,"y":110},{"x":72,"y":22},{"x":75,"y":26},{"x":73,"y":30},{"x":77,"y":24},{"x":74,"y":33},{"x":78,"y":28},{"x":76,"y":20},{"x":92,"y":119},{"x":95,"y":119},{"x":98,"y":119},{"x":101,"y":119},{"x":104,"y":119},{"x":90,"y":118},{"x":65,"y":40},{"x":80,"y":70},{"x":105,"y":60},{"x":110,"y":90},{"x":83,"y":100},{"x":87,"y":10},{"x":90,"y":14},{"x":86,"y":16},{"x":91,"y":19},{"x":88,"y":22},{"x":92,"y":26},{"x":89,"y":30},{"x":93,"y":38},{"x":90,"y":40},{"x":94,"y":46},{"x":91,"y":46},{"x":95,"y":54},{"x":92,"y":54},{"x":96,"y":62},{"x":93,"y":66},{"x":97,"y":70},{"x":94,"y":74},{"x":98,"y":78},{"x":95,"y":82},{"x":99,"y":86},{"x":96,"y":90},{"x":100,"y":94},{"x":97,"y":98},{"x":101,"y":100},{"x":98,"y":106},{"x":102,"y":108},{"x":99,"y":114},{"x":100,"y":118}],
 "scD": [{"x":40,"y":1},{"x":44,"y":3},{"x":48,"y":2},{"x":52,"y":4},{"x":56,"y":1},{"x":60,"y":3},{"x":64,"y":2},{"x":68,"y":4},{"x":72,"y":1},{"x":76,"y":3},{"x":80,"y":2},{"x":84,"y":4},{"x":88,"y":1},{"x":92,"y":3},{"x":95,"y":2},{"x":86,"y":6},{"x":90,"y":8},{"x":82,"y":12},{"x":85,"y":15},{"x":87,"y":18},{"x":84,"y":22},{"x":88,"y":25},{"x":90,"y":28},{"x":86,"y":31},{"x":89,"y":34},{"x":91,"y":37},{"x":88,"y":40},{"x":92,"y":43},{"x":90,"y":46},{"x":93,"y":49},{"x":91,"y":52},{"x":94,"y":55},{"x":92,"y":58},{"x":95,"y":61},{"x":93,"y":64},{"x":96,"y":67},{"x":94,"y":70},{"x":97,"y":73},{"x":95,"y":76},{"x":98,"y":80},{"x":96,"y":84},{"x":99,"y":88},{"x":97,"y":92},{"x":100,"y":96},{"x":98,"y":100},{"x":101,"y":105},{"x":99,"y":110},{"x":102,"y":115},{"x":100,"y":118},{"x":89,"y":20},{"x":92,"y":30},{"x":86,"y":45},{"x":94,"y":40},{"x":90,"y":60},{"x":97,"y":55},{"x":91,"y":66},{"x":70,"y":30},{"x":75,"y":20},{"x":78,"y":50},{"x":105,"y":70},{"x":65,"y":15},{"x":80,"y":90},{"x":110,"y":100},{"x":83,"y":8},{"x":86,"y":10},{"x":88,"y":14},{"x":85,"y":18},{"x":90,"y":22},{"x":87,"y":27},{"x":91,"y":30},{"x":88,"y":33},{"x":92,"y":36},{"x":89,"y":42},{"x":93,"y":45},{"x":91,"y":48},{"x":94,"y":51},{"x":92,"y":54},{"x":95,"y":57},{"x":93,"y":60},{"x":96,"y":63},{"x":94,"y":66},{"x":97,"y":70},{"x":95,"y":72},{"x":98,"y":76},{"x":96,"y":79},{"x":99,"y":82},{"x":97,"y":86},{"x":100,"y":90},{"x":99,"y":94},{"x":101,"y":100}],
 "scE": [{"x":45,"y":2},{"x":48,"y":5},{"x":51,"y":1},{"x":54,"y":4},{"x":57,"y":7},{"x":60,"y":2},{"x":63,"y":5},{"x":66,"y":9},{"x":69,"y":3},{"x":72,"y":6},{"x":75,"y":11},{"x":78,"y":4},{"x":81,"y":8},{"x":84,"y":2},{"x":87,"y":6},{"x":90,"y":12},{"x":93,"y":3},{"x":96,"y":7},{"x":99,"y":4},{"x":58,"y":10},{"x":70,"y":13},{"x":82,"y":14},{"x":88,"y":10},{"x":80,"y":16},{"x":83,"y":19},{"x":86,"y":22},{"x":82,"y":25},{"x":85,"y":28},{"x":88,"y":31},{"x":84,"y":34},{"x":87,"y":37},{"x":89,"y":40},{"x":86,"y":43},{"x":90,"y":46},{"x":88,"y":49},{"x":91,"y":52},{"x":87,"y":55},{"x":90,"y":58},{"x":92,"y":61},{"x":89,"y":64},{"x":91,"y":67},{"x":93,"y":70},{"x":90,"y":73},{"x":92,"y":76},{"x":94,"y":79},{"x":84,"y":20},{"x":88,"y":26},{"x":91,"y":35},{"x":86,"y":50},{"x":93,"y":56},{"x":89,"y":45},{"x":93,"y":85},{"x":96,"y":92},{"x":92,"y":98},{"x":97,"y":105},{"x":94,"y":112},{"x":98,"y":118},{"x":95,"y":100},{"x":91,"y":90},{"x":72,"y":25},{"x":75,"y":30},{"x":74,"y":22},{"x":77,"y":27},{"x":65,"y":40},{"x":100,"y":60},{"x":78,"y":65},{"x":105,"y":95},{"x":81,"y":12},{"x":84,"y":14},{"x":86,"y":17},{"x":83,"y":21},{"x":87,"y":24},{"x":85,"y":26},{"x":89,"y":29},{"x":86,"y":32},{"x":88,"y":35},{"x":90,"y":38},{"x":87,"y":41},{"x":91,"y":44},{"x":89,"y":47},{"x":92,"y":50},{"x":88,"y":53},{"x":91,"y":56},{"x":93,"y":59},{"x":90,"y":62},{"x":92,"y":65},{"x":94,"y":68},{"x":91,"y":71},{"x":93,"y":74},{"x":95,"y":77},{"x":92,"y":80},{"x":94,"y":83}],
 "gates": [{"p":"A","x":72.8,"x2":110,"y":14.8,"y2":74},{"p":"B","x":72,"x2":109,"y":12.3,"y2":70.8},{"p":"C","x":71.2,"x2":109,"y":16.7,"y2":79},{"p":"D","x":69.2,"x2":104.4,"y":10.2,"y2":67.7},{"p":"E","x":65.8,"x2":103.7,"y":16.1,"y2":76.1}],
 "handles": [{"p":"B","x":72,"y":12.3},{"p":"B","x":72,"y":41.55},{"p":"B","x":72,"y":70.8},{"p":"B","x":90.5,"y":70.8},{"p":"B","x":109,"y":70.8},{"p":"B","x":109,"y":41.55},{"p":"B","x":109,"y":12.3},{"p":"B","x":90.5,"y":12.3},{"p":"C","x":71.2,"y":16.7},{"p":"C","x":71.2,"y":47.85},{"p":"C","x":71.2,"y":79},{"p":"C","x":90.1,"y":79},{"p":"C","x":109,"y":79},{"p":"C","x":109,"y":47.85},{"p":"C","x":109,"y":16.7},{"p":"C","x":90.1,"y":16.7},{"p":"E","x":65.8,"y":16.1},{"p":"E","x":65.8,"y":46.1},{"p":"E","x":65.8,"y":76.1},{"p":"E","x":84.75,"y":76.1},{"p":"E","x":103.7,"y":76.1},{"p":"E","x":103.7,"y":46.1},{"p":"E","x":103.7,"y":16.1},{"p":"E","x":84.75,"y":16.1}],
 "r1": [{"p":"A","x":79,"y":27},{"p":"B","x":77,"y":25},{"p":"C","x":75,"y":27},{"p":"D","x":73,"y":22},{"p":"E","x":71,"y":32}],
 "txt": [
  {"p":"A","l":0,"t":"Sync Wizard Model"},{"p":"A","l":2,"t":"File: 101202 2_0004.FCS"},{"p":"A","l":3,"t":"Date acquired: 02-DEC-2010"},{"p":"A","l":4,"t":"Date analyzed: 6-Dec-2010"},{"p":"A","l":6,"t":"G0G1:"},{"p":"A","l":7,"t":"\u00a060.39 %\u00a0\u00a0\u00a0\u00a0Mean: 70.00"},{"p":"A","l":8,"t":"\u00a0CV: 7.86 %"},{"p":"A","l":9,"t":"G2M:"},{"p":"A","l":10,"t":"\u00a013.25 %\u00a0\u00a0\u00a0\u00a0Mean: 126.00"},{"p":"A","l":11,"t":"\u00a0G2/G1: 1.80"},{"p":"A","l":12,"t":"S-Phase:"},{"p":"A","l":13,"t":"\u00a026.36 %\u00a0\u00a0\u00a0\u00a0Mean: 98.58"},{"p":"A","l":15,"t":"\u00a0\u00a0Compartment 1:\u00a0\u00a026.36 %"},{"p":"A","l":17,"t":"Modeled Events: 4484"},{"p":"A","l":18,"t":"RCS: 3.103"},
  {"p":"B","l":0,"t":"Sync Wizard Model"},{"p":"B","l":2,"t":"File: 101202 1_0036.FCS"},{"p":"B","l":3,"t":"Date acquired: 02-DEC-2010"},{"p":"B","l":4,"t":"Date analyzed: 6-Dec-2010"},{"p":"B","l":6,"t":"G0G1:"},{"p":"B","l":7,"t":"\u00a060.77 %\u00a0\u00a0\u00a0\u00a0Mean: 52.00"},{"p":"B","l":8,"t":"\u00a0CV: 11.54 %"},{"p":"B","l":9,"t":"G2M:"},{"p":"B","l":10,"t":"\u00a012.39 %\u00a0\u00a0\u00a0\u00a0Mean: 101.00"},{"p":"B","l":11,"t":"\u00a0G2/G1: 1.94"},{"p":"B","l":12,"t":"S-Phase:"},{"p":"B","l":13,"t":"\u00a026.83 %\u00a0\u00a0\u00a0\u00a0Mean: 77.52"},{"p":"B","l":15,"t":"Modeled Events: 4606"},{"p":"B","l":16,"t":"RCS: 2.527"},
  {"p":"C","l":0,"t":"Sync Wizard Model"},{"p":"C","l":2,"t":"File: 101202 2_0036.FCS"},{"p":"C","l":3,"t":"Date acquired: 02-DEC-2010"},{"p":"C","l":4,"t":"Date analyzed: 6-Dec-2010"},{"p":"C","l":6,"t":"G0G1:"},{"p":"C","l":7,"t":"\u00a046.19 %\u00a0\u00a0\u00a0\u00a0Mean: 78.00"},{"p":"C","l":8,"t":"\u00a0CV: 8.97 %"},{"p":"C","l":9,"t":"G2M:"},{"p":"C","l":10,"t":"\u00a015.20 %\u00a0\u00a0\u00a0\u00a0Mean: 140.40"},{"p":"C","l":11,"t":"\u00a0G2/G1: 1.80"},{"p":"C","l":12,"t":"S-Phase:"},{"p":"C","l":13,"t":"\u00a038.60 %\u00a0\u00a0\u00a0\u00a0Mean: 110.06"},{"p":"C","l":15,"t":"\u00a0\u00a0Compartment 1:\u00a0\u00a038.60 %"},{"p":"C","l":17,"t":"Modeled Events: 2081"},{"p":"C","l":18,"t":"RCS: 4.441"},
  {"p":"D","l":0,"t":"Sync Wizard Model"},{"p":"D","l":2,"t":"File: 101202 1_0042.FCS"},{"p":"D","l":3,"t":"Date acquired: 02-DEC-2010"},{"p":"D","l":4,"t":"Date analyzed: 6-Dec-2010"},{"p":"D","l":6,"t":"G0G1:"},{"p":"D","l":7,"t":"\u00a054.04 %\u00a0\u00a0\u00a0\u00a0Mean: 61.00"},{"p":"D","l":8,"t":"\u00a0CV: 7.87 %"},{"p":"D","l":9,"t":"G2M:"},{"p":"D","l":10,"t":"\u00a018.37 %\u00a0\u00a0\u00a0\u00a0Mean: 109.80"},{"p":"D","l":11,"t":"\u00a0G2/G1: 1.80"},{"p":"D","l":12,"t":"S-Phase:"},{"p":"D","l":13,"t":"\u00a027.59 %\u00a0\u00a0\u00a0\u00a0Mean: 85.93"},{"p":"D","l":15,"t":"\u00a0\u00a0Compartment 1:\u00a0\u00a027.59 %"},{"p":"D","l":17,"t":"Modeled Events: 4237"},{"p":"D","l":18,"t":"RCS: 5.060"},
  {"p":"E","l":0,"t":"Sync Wizard Model"},{"p":"E","l":2,"t":"File: 101202 2_0042.FCS"},{"p":"E","l":3,"t":"Date acquired: 02-DEC-2010"},{"p":"E","l":4,"t":"Date analyzed: 6-Dec-2010"},{"p":"E","l":6,"t":"G0G1:"},{"p":"E","l":7,"t":"\u00a049.26 %\u00a0\u00a0\u00a0\u00a0Mean: 78.00"},{"p":"E","l":8,"t":"\u00a0CV: 7.69 %"},{"p":"E","l":9,"t":"G2M:"},{"p":"E","l":10,"t":"\u00a012.41 %\u00a0\u00a0\u00a0\u00a0Mean: 135.00"},{"p":"E","l":11,"t":"\u00a0G2/G1: 1.73"},{"p":"E","l":12,"t":"S-Phase:"},{"p":"E","l":13,"t":"\u00a038.33 %\u00a0\u00a0\u00a0\u00a0Mean: 107.13"},{"p":"E","l":15,"t":"\u00a0\u00a0Compartment 1:\u00a0\u00a038.33 %"},{"p":"E","l":17,"t":"Modeled Events: 1500"},{"p":"E","l":18,"t":"RCS: 5.484"}
 ],
 "ann": [
  {"p":"A","a":"b","t":"A","x":148,"y":182.5},
  {"p":"A","a":"l","t":"DMSO 48h","x":92.5,"y":127},{"p":"A","a":"l","t":"G0/G1","x":88,"y":106},{"p":"A","a":"l","t":"=","x":119,"y":106},{"p":"A","a":"r","t":"60.39 %","x":146.6,"y":106},{"p":"A","a":"l","t":"phaseS","x":88,"y":97.5},{"p":"A","a":"l","t":"=","x":120.5,"y":97.5},{"p":"A","a":"r","t":"26.36 %","x":146.6,"y":97.5},{"p":"A","a":"l","t":"G2/M","x":88,"y":88.75},{"p":"A","a":"l","t":"=","x":119,"y":88.75},{"p":"A","a":"r","t":"13.25 %","x":146.6,"y":88.75},
  {"p":"B","a":"b","t":"B","x":147.1,"y":236.2},
  {"p":"B","a":"l","t":"JDHI 10 24h","x":90,"y":156.5},{"p":"B","a":"l","t":"G0/G1","x":88.6,"y":129},{"p":"B","a":"l","t":"=","x":117.6,"y":129},{"p":"B","a":"r","t":"60.77 %","x":146.6,"y":129},{"p":"B","a":"l","t":"phaseS","x":88.6,"y":116.7},{"p":"B","a":"l","t":"=","x":119,"y":116.7},{"p":"B","a":"r","t":"26.83 %","x":146.6,"y":116.7},{"p":"B","a":"l","t":"G2/M","x":88.6,"y":104.3},{"p":"B","a":"l","t":"=","x":117.6,"y":104.3},{"p":"B","a":"r","t":"12.39 %","x":146.6,"y":104.3},
  {"p":"C","a":"b","t":"C","x":180,"y":58.9},
  {"p":"C","a":"l","t":"JDHI 10 48h","x":111.6,"y":39.1},{"p":"C","a":"l","t":"G0/G1","x":109.2,"y":32.6},{"p":"C","a":"l","t":"=","x":143.4,"y":32.6},{"p":"C","a":"r","t":"46.19 %","x":177.6,"y":32.6},{"p":"C","a":"l","t":"phaseS","x":109.2,"y":29.6},{"p":"C","a":"l","t":"=","x":145,"y":29.6},{"p":"C","a":"r","t":"38.60 %","x":177.6,"y":29.6},{"p":"C","a":"l","t":"G2/M","x":109.2,"y":26.6},{"p":"C","a":"l","t":"=","x":143.4,"y":26.6},{"p":"C","a":"r","t":"15.20 %","x":177.6,"y":26.6},
  {"p":"D","a":"b","t":"D","x":146.6,"y":222.9},
  {"p":"D","a":"l","t":"JDE 100 24h","x":91,"y":153.8},{"p":"D","a":"l","t":"G0/G1","x":90,"y":128.5},{"p":"D","a":"l","t":"=","x":115.6,"y":128.5},{"p":"D","a":"r","t":"54.04 %","x":146.6,"y":128.5},{"p":"D","a":"l","t":"phaseS","x":90,"y":115.9},{"p":"D","a":"l","t":"=","x":117,"y":115.9},{"p":"D","a":"r","t":"27.59 %","x":146.6,"y":115.9},{"p":"D","a":"l","t":"G2/M","x":90,"y":103.3},{"p":"D","a":"l","t":"=","x":115.6,"y":103.3},{"p":"D","a":"r","t":"18.37 %","x":146.6,"y":103.3},
  {"p":"E","a":"b","t":"E","x":180.6,"y":46.9},
  {"p":"E","a":"l","t":"JDE 100 48h","x":110.7,"y":32.4},{"p":"E","a":"l","t":"G0/G1","x":109.5,"y":26.4},{"p":"E","a":"l","t":"=","x":146.2,"y":26.4},{"p":"E","a":"r","t":"49.26 %","x":177.6,"y":26.4},{"p":"E","a":"l","t":"phaseS","x":109.5,"y":23.8},{"p":"E","a":"l","t":"=","x":147.5,"y":23.8},{"p":"E","a":"r","t":"38.33 %","x":177.6,"y":23.8},{"p":"E","a":"l","t":"G2/M","x":109.5,"y":21.3},{"p":"E","a":"l","t":"=","x":146.2,"y":21.3},{"p":"E","a":"r","t":"12.41 %","x":177.6,"y":21.3}
 ]
},
"vconcat": [
 {"hconcat": [
  {"width": 352, "height": 465, "data": {"values": [{"a": 1}]}, "mark": {"type": "rect", "opacity": 0}, "encoding": {"x": {"datum": 0, "type": "quantitative", "scale": {"domain": [0, 1]}, "axis": null}, "x2": {"datum": 1}, "y": {"datum": 0, "type": "quantitative", "scale": {"domain": [0, 1]}, "axis": null}, "y2": {"datum": 1}}},
  {"width": 143, "height": 148,
   "layer": [
    {"encoding": {"x": {"field": "x", "type": "quantitative", "scale": {"domain": [0, 120], "range": [0, 101], "nice": false}, "axis": {"title": "FS-PL-FSCLogMax", "values": [0,6,12,18,24,30,36,42,48,54,60,66,72,78,84,90,96,102,108,114,120], "labelExpr": "datum.value % 30 === 0 ? datum.label : ''", "labelFontSize": 5, "titleFontSize": 6.5, "tickSize": 2.5, "titlePadding": 1}},
                  "y": {"field": "y", "type": "quantitative", "scale": {"domain": [0, 120], "range": [148, 26], "nice": false}, "axis": {"title": "FL2-P-PM2Max", "values": [0,6,12,18,24,30,36,42,48,54,60,66,72,78,84,90,96,102,108,114,120], "labelExpr": "datum.value % 30 === 0 ? datum.label : ''", "labelFontSize": 5, "titleFontSize": 6.5, "tickSize": 2.5, "titlePadding": 1}}},
     "layer": [
      {"data": {"name": "scA"}, "mark": {"type": "circle", "size": 9, "color": "#555", "opacity": 0.85}},
      {"data": {"name": "gates"}, "transform": [{"filter": "datum.p == 'A'"}], "mark": {"type": "rect", "fill": null, "stroke": "#222", "strokeWidth": 1.3}, "encoding": {"x2": {"field": "x2"}, "y2": {"field": "y2"}}},
      {"data": {"name": "r1"}, "transform": [{"filter": "datum.p == 'A'"}], "mark": {"type": "text", "fontSize": 7, "color": "#333"}, "encoding": {"text": {"value": "R1"}}}
     ]},
    {"data": {"name": "txt"}, "transform": [{"filter": "datum.p == 'A'"}], "mark": {"type": "text", "align": "left", "baseline": "middle", "fontSize": 7.3, "color": "#555", "dx": -20},
     "encoding": {"x": {"datum": 0, "type": "quantitative"}, "y": {"field": "l", "type": "quantitative", "scale": {"domain": [0, 18], "range": [179, 386], "nice": false, "zero": false}, "axis": null}, "text": {"field": "t"}}}
   ],
   "resolve": {"scale": {"y": "independent"}}},
  {"width": 305, "height": 360,
   "data": {"name": "hA"},
   "encoding": {"x": {"field": "x", "type": "quantitative", "scale": {"domain": [0, 150], "range": [0, 305], "nice": false}, "axis": {"title": "Channels (FL2-P-PM2Max)", "values": [0,6,12,18,24,30,36,42,48,54,60,66,72,78,84,90,96,102,108,114,120,126,132,138,144,150], "labelExpr": "datum.value % 30 === 0 ? datum.label : ''"}},
                "y": {"field": "y", "type": "quantitative", "stack": null, "scale": {"domain": [0, 200], "range": [360, 40], "nice": false}, "axis": {"title": "Number", "values": [0,8,16,24,32,40,48,56,64,72,80,88,96,104,112,120,128,136,144,152,160,168,176,184,192,200], "labelExpr": "datum.value % 40 === 0 && datum.value < 200 ? datum.label : ''"}}},
   "layer": [
    {"transform": [{"filter": "datum.s == 'S-Phase'"}], "mark": {"type": "area", "clip": true, "opacity": 1, "interpolate": "monotone"}, "encoding": {"color": {"field": "s", "type": "nominal", "scale": {"domain": ["G0G1", "G2M", "S-Phase"], "range": ["#505050", "#505050", "#e4e4e4"]}, "legend": {"title": null, "legendX": 205, "legendY": 13}}}},
    {"transform": [{"filter": "datum.s == 'S-Phase'"}], "mark": {"type": "area", "clip": true, "opacity": 1, "interpolate": "monotone", "fill": {"gradient": "linear", "x1": 0, "y1": 0.6, "x2": 1, "y2": 0.4, "stops": [{"offset":0,"color":"#808080"},{"offset":0.01,"color":"#fff"},{"offset":0.0233,"color":"#fff"},{"offset":0.0333,"color":"#808080"},{"offset":0.0433,"color":"#fff"},{"offset":0.0567,"color":"#fff"},{"offset":0.0667,"color":"#808080"},{"offset":0.0767,"color":"#fff"},{"offset":0.09,"color":"#fff"},{"offset":0.1,"color":"#808080"},{"offset":0.11,"color":"#fff"},{"offset":0.1233,"color":"#fff"},{"offset":0.1333,"color":"#808080"},{"offset":0.1433,"color":"#fff"},{"offset":0.1567,"color":"#fff"},{"offset":0.1667,"color":"#808080"},{"offset":0.1767,"color":"#fff"},{"offset":0.19,"color":"#fff"},{"offset":0.2,"color":"#808080"},{"offset":0.21,"color":"#fff"},{"offset":0.2233,"color":"#fff"},{"offset":0.2333,"color":"#808080"},{"offset":0.2433,"color":"#fff"},{"offset":0.2567,"color":"#fff"},{"offset":0.2667,"color":"#808080"},{"offset":0.2767,"color":"#fff"},{"offset":0.29,"color":"#fff"},{"offset":0.3,"color":"#808080"},{"offset":0.31,"color":"#fff"},{"offset":0.3233,"color":"#fff"},{"offset":0.3333,"color":"#808080"},{"offset":0.3433,"color":"#fff"},{"offset":0.3567,"color":"#fff"},{"offset":0.3667,"color":"#808080"},{"offset":0.3767,"color":"#fff"},{"offset":0.39,"color":"#fff"},{"offset":0.4,"color":"#808080"},{"offset":0.41,"color":"#fff"},{"offset":0.4233,"color":"#fff"},{"offset":0.4333,"color":"#808080"},{"offset":0.4433,"color":"#fff"},{"offset":0.4567,"color":"#fff"},{"offset":0.4667,"color":"#808080"},{"offset":0.4767,"color":"#fff"},{"offset":0.49,"color":"#fff"},{"offset":0.5,"color":"#808080"},{"offset":0.51,"color":"#fff"},{"offset":0.5233,"color":"#fff"},{"offset":0.5333,"color":"#808080"},{"offset":0.5433,"color":"#fff"},{"offset":0.5567,"color":"#fff"},{"offset":0.5667,"color":"#808080"},{"offset":0.5767,"color":"#fff"},{"offset":0.59,"color":"#fff"},{"offset":0.6,"color":"#808080"},{"offset":0.61,"color":"#fff"},{"offset":0.6233,"color":"#fff"},{"offset":0.6333,"color":"#808080"},{"offset":0.6433,"color":"#fff"},{"offset":0.6567,"color":"#fff"},{"offset":0.6667,"color":"#808080"},{"offset":0.6767,"color":"#fff"},{"offset":0.69,"color":"#fff"},{"offset":0.7,"color":"#808080"},{"offset":0.71,"color":"#fff"},{"offset":0.7233,"color":"#fff"},{"offset":0.7333,"color":"#808080"},{"offset":0.7433,"color":"#fff"},{"offset":0.7567,"color":"#fff"},{"offset":0.7667,"color":"#808080"},{"offset":0.7767,"color":"#fff"},{"offset":0.79,"color":"#fff"},{"offset":0.8,"color":"#808080"},{"offset":0.81,"color":"#fff"},{"offset":0.8233,"color":"#fff"},{"offset":0.8333,"color":"#808080"},{"offset":0.8433,"color":"#fff"},{"offset":0.8567,"color":"#fff"},{"offset":0.8667,"color":"#808080"},{"offset":0.8767,"color":"#fff"},{"offset":0.89,"color":"#fff"},{"offset":0.9,"color":"#808080"},{"offset":0.91,"color":"#fff"},{"offset":0.9233,"color":"#fff"},{"offset":0.9333,"color":"#808080"},{"offset":0.9433,"color":"#fff"},{"offset":0.9567,"color":"#fff"},{"offset":0.9667,"color":"#808080"},{"offset":0.9767,"color":"#fff"},{"offset":0.99,"color":"#fff"},{"offset":1,"color":"#808080"}]}}},
    {"transform": [{"filter": "datum.s == 'G0G1' || datum.s == 'G2M'"}], "mark": {"type": "area", "clip": true, "opacity": 1, "interpolate": "monotone", "stroke": "#111", "strokeWidth": 0.7}, "encoding": {"color": {"field": "s", "type": "nominal", "scale": {"domain": ["G0G1", "G2M", "S-Phase"], "range": ["#505050", "#505050", "#e4e4e4"]}, "legend": {"title": null, "legendX": 205, "legendY": 13}}}},
    {"transform": [{"filter": "datum.s == 'S-Phase'"}], "mark": {"type": "line", "clip": true, "interpolate": "monotone", "color": "#111", "strokeWidth": 0.7}},
    {"transform": [{"filter": "datum.s == 'o'"}], "mark": {"type": "line", "clip": true, "color": "#555", "strokeWidth": 0.8}},
    {"transform": [{"filter": "datum.s == 'f'"}], "mark": {"type": "line", "clip": true, "interpolate": "monotone", "color": "#222", "strokeWidth": 2.4}},
    {"transform": [{"filter": "datum.s == 'f'"}], "mark": {"type": "line", "clip": true, "interpolate": "monotone", "color": "#fff", "strokeWidth": 0.9}},
    {"data": {"name": "ann"}, "transform": [{"filter": "datum.p == 'A' && datum.a == 'l'"}], "mark": {"type": "text", "align": "left", "baseline": "middle", "fontSize": 10.5, "fontWeight": "bold", "color": "#222"}, "encoding": {"text": {"field": "t"}}},
    {"data": {"name": "ann"}, "transform": [{"filter": "datum.p == 'A' && datum.a == 'r'"}], "mark": {"type": "text", "align": "right", "baseline": "middle", "fontSize": 10.5, "fontWeight": "bold", "color": "#222"}, "encoding": {"text": {"field": "t"}}},
    {"data": {"name": "ann"}, "transform": [{"filter": "datum.p == 'A' && datum.a == 'b'"}], "mark": {"type": "text", "align": "left", "baseline": "alphabetic", "fontSize": 24, "fontWeight": "bold", "color": "#111"}, "encoding": {"text": {"field": "t"}}}
   ]}
 ], "spacing": 0, "bounds": "flush", "resolve": {"scale": {"color": "independent"}, "legend": {"color": "independent"}}},
 {"hconcat": [
  {"width": 32, "height": 470, "data": {"values": [{"a": 1}]}, "mark": {"type": "rect", "opacity": 0}, "encoding": {"x": {"datum": 0, "type": "quantitative", "scale": {"domain": [0, 1]}, "axis": null}, "x2": {"datum": 1}, "y": {"datum": 0, "type": "quantitative", "scale": {"domain": [0, 1]}, "axis": null}, "y2": {"datum": 1}}},
  {"width": 147, "height": 157,
   "layer": [
    {"encoding": {"x": {"field": "x", "type": "quantitative", "scale": {"domain": [0, 120], "range": [0, 101], "nice": false}, "axis": {"title": "FS-PL-FSCLogMax", "values": [0,6,12,18,24,30,36,42,48,54,60,66,72,78,84,90,96,102,108,114,120], "labelExpr": "datum.value % 30 === 0 ? datum.label : ''", "labelFontSize": 5, "titleFontSize": 6.5, "tickSize": 2.5, "titlePadding": 1}},
                  "y": {"field": "y", "type": "quantitative", "scale": {"domain": [0, 120], "range": [157, 27], "nice": false}, "axis": {"title": "FL2-P-PM2Max", "values": [0,6,12,18,24,30,36,42,48,54,60,66,72,78,84,90,96,102,108,114,120], "labelExpr": "datum.value % 30 === 0 ? datum.label : ''", "labelFontSize": 5, "titleFontSize": 6.5, "tickSize": 2.5, "titlePadding": 1}}},
     "layer": [
      {"data": {"name": "scB"}, "mark": {"type": "circle", "size": 9, "color": "#555", "opacity": 0.85}},
      {"data": {"name": "gates"}, "transform": [{"filter": "datum.p == 'B'"}], "mark": {"type": "rect", "fill": null, "stroke": "#222", "strokeWidth": 1.3}, "encoding": {"x2": {"field": "x2"}, "y2": {"field": "y2"}}},
      {"data": {"name": "handles"}, "transform": [{"filter": "datum.p == 'B'"}], "mark": {"type": "point", "shape": "circle", "size": 10, "filled": true, "fill": "white", "stroke": "#222", "strokeWidth": 0.8, "opacity": 1}},
      {"data": {"name": "r1"}, "transform": [{"filter": "datum.p == 'B'"}], "mark": {"type": "text", "fontSize": 7, "color": "#333"}, "encoding": {"text": {"value": "R1"}}}
     ]},
    {"data": {"name": "txt"}, "transform": [{"filter": "datum.p == 'B'"}], "mark": {"type": "text", "align": "left", "baseline": "middle", "fontSize": 8, "color": "#555", "dx": -28},
     "encoding": {"x": {"datum": 0, "type": "quantitative"}, "y": {"field": "l", "type": "quantitative", "scale": {"domain": [0, 18], "range": [193, 432.4], "nice": false, "zero": false}, "axis": null}, "text": {"field": "t"}}}
   ],
   "resolve": {"scale": {"y": "independent"}}},
  {"width": 478, "height": 378,
   "data": {"name": "hB"},
   "encoding": {"x": {"field": "x", "type": "quantitative", "scale": {"domain": [0, 150], "range": [0, 310], "nice": false}, "axis": {"title": "Channels (FL2-P-PM2Max)", "values": [0,6,12,18,24,30,36,42,48,54,60,66,72,78,84,90,96,102,108,114,120,126,132,138,144,150], "labelExpr": "datum.value % 30 === 0 ? datum.label : ''"}},
                "y": {"field": "y", "type": "quantitative", "stack": null, "scale": {"domain": [0, 241], "range": [378, 45], "nice": false}, "axis": {"title": "Number", "values": [0,10,20,30,40,50,60,70,80,90,100,110,120,130,140,150,160,170,180,190,200,210,220,230,240], "labelExpr": "datum.value % 50 === 0 ? datum.label : ''"}}},
   "layer": [
    {"transform": [{"filter": "datum.s == 'S-Phase'"}], "mark": {"type": "area", "clip": true, "opacity": 1, "interpolate": "monotone"}, "encoding": {"color": {"field": "s", "type": "nominal", "scale": {"domain": ["G0G1", "G2M", "S-Phase"], "range": ["#505050", "#505050", "#e4e4e4"]}, "legend": {"title": null, "legendX": 209, "legendY": 18}}}},
    {"transform": [{"filter": "datum.s == 'S-Phase'"}], "mark": {"type": "area", "clip": true, "opacity": 1, "interpolate": "monotone", "fill": {"gradient": "linear", "x1": 0, "y1": 0.6, "x2": 1, "y2": 0.4, "stops": [{"offset":0,"color":"#808080"},{"offset":0.01,"color":"#fff"},{"offset":0.0233,"color":"#fff"},{"offset":0.0333,"color":"#808080"},{"offset":0.0433,"color":"#fff"},{"offset":0.0567,"color":"#fff"},{"offset":0.0667,"color":"#808080"},{"offset":0.0767,"color":"#fff"},{"offset":0.09,"color":"#fff"},{"offset":0.1,"color":"#808080"},{"offset":0.11,"color":"#fff"},{"offset":0.1233,"color":"#fff"},{"offset":0.1333,"color":"#808080"},{"offset":0.1433,"color":"#fff"},{"offset":0.1567,"color":"#fff"},{"offset":0.1667,"color":"#808080"},{"offset":0.1767,"color":"#fff"},{"offset":0.19,"color":"#fff"},{"offset":0.2,"color":"#808080"},{"offset":0.21,"color":"#fff"},{"offset":0.2233,"color":"#fff"},{"offset":0.2333,"color":"#808080"},{"offset":0.2433,"color":"#fff"},{"offset":0.2567,"color":"#fff"},{"offset":0.2667,"color":"#808080"},{"offset":0.2767,"color":"#fff"},{"offset":0.29,"color":"#fff"},{"offset":0.3,"color":"#808080"},{"offset":0.31,"color":"#fff"},{"offset":0.3233,"color":"#fff"},{"offset":0.3333,"color":"#808080"},{"offset":0.3433,"color":"#fff"},{"offset":0.3567,"color":"#fff"},{"offset":0.3667,"color":"#808080"},{"offset":0.3767,"color":"#fff"},{"offset":0.39,"color":"#fff"},{"offset":0.4,"color":"#808080"},{"offset":0.41,"color":"#fff"},{"offset":0.4233,"color":"#fff"},{"offset":0.4333,"color":"#808080"},{"offset":0.4433,"color":"#fff"},{"offset":0.4567,"color":"#fff"},{"offset":0.4667,"color":"#808080"},{"offset":0.4767,"color":"#fff"},{"offset":0.49,"color":"#fff"},{"offset":0.5,"color":"#808080"},{"offset":0.51,"color":"#fff"},{"offset":0.5233,"color":"#fff"},{"offset":0.5333,"color":"#808080"},{"offset":0.5433,"color":"#fff"},{"offset":0.5567,"color":"#fff"},{"offset":0.5667,"color":"#808080"},{"offset":0.5767,"color":"#fff"},{"offset":0.59,"color":"#fff"},{"offset":0.6,"color":"#808080"},{"offset":0.61,"color":"#fff"},{"offset":0.6233,"color":"#fff"},{"offset":0.6333,"color":"#808080"},{"offset":0.6433,"color":"#fff"},{"offset":0.6567,"color":"#fff"},{"offset":0.6667,"color":"#808080"},{"offset":0.6767,"color":"#fff"},{"offset":0.69,"color":"#fff"},{"offset":0.7,"color":"#808080"},{"offset":0.71,"color":"#fff"},{"offset":0.7233,"color":"#fff"},{"offset":0.7333,"color":"#808080"},{"offset":0.7433,"color":"#fff"},{"offset":0.7567,"color":"#fff"},{"offset":0.7667,"color":"#808080"},{"offset":0.7767,"color":"#fff"},{"offset":0.79,"color":"#fff"},{"offset":0.8,"color":"#808080"},{"offset":0.81,"color":"#fff"},{"offset":0.8233,"color":"#fff"},{"offset":0.8333,"color":"#808080"},{"offset":0.8433,"color":"#fff"},{"offset":0.8567,"color":"#fff"},{"offset":0.8667,"color":"#808080"},{"offset":0.8767,"color":"#fff"},{"offset":0.89,"color":"#fff"},{"offset":0.9,"color":"#808080"},{"offset":0.91,"color":"#fff"},{"offset":0.9233,"color":"#fff"},{"offset":0.9333,"color":"#808080"},{"offset":0.9433,"color":"#fff"},{"offset":0.9567,"color":"#fff"},{"offset":0.9667,"color":"#808080"},{"offset":0.9767,"color":"#fff"},{"offset":0.99,"color":"#fff"},{"offset":1,"color":"#808080"}]}}},
    {"transform": [{"filter": "datum.s == 'G0G1' || datum.s == 'G2M'"}], "mark": {"type": "area", "clip": true, "opacity": 1, "interpolate": "monotone", "stroke": "#111", "strokeWidth": 0.7}, "encoding": {"color": {"field": "s", "type": "nominal", "scale": {"domain": ["G0G1", "G2M", "S-Phase"], "range": ["#505050", "#505050", "#e4e4e4"]}, "legend": {"title": null, "legendX": 209, "legendY": 18}}}},
    {"transform": [{"filter": "datum.s == 'S-Phase'"}], "mark": {"type": "line", "clip": true, "interpolate": "monotone", "color": "#111", "strokeWidth": 0.7}},
    {"transform": [{"filter": "datum.s == 'o'"}], "mark": {"type": "line", "clip": true, "color": "#555", "strokeWidth": 0.8}},
    {"transform": [{"filter": "datum.s == 'f'"}], "mark": {"type": "line", "clip": true, "interpolate": "monotone", "color": "#222", "strokeWidth": 2.4}},
    {"transform": [{"filter": "datum.s == 'f'"}], "mark": {"type": "line", "clip": true, "interpolate": "monotone", "color": "#fff", "strokeWidth": 0.9}},
    {"data": {"name": "ann"}, "transform": [{"filter": "datum.p == 'B' && datum.a == 'l'"}], "mark": {"type": "text", "align": "left", "baseline": "middle", "fontSize": 10.5, "fontWeight": "bold", "color": "#222"}, "encoding": {"text": {"field": "t"}}},
    {"data": {"name": "ann"}, "transform": [{"filter": "datum.p == 'B' && datum.a == 'r'"}], "mark": {"type": "text", "align": "right", "baseline": "middle", "fontSize": 10.5, "fontWeight": "bold", "color": "#222"}, "encoding": {"text": {"field": "t"}}},
    {"data": {"name": "ann"}, "transform": [{"filter": "datum.p == 'B' && datum.a == 'b'"}], "mark": {"type": "text", "align": "left", "baseline": "alphabetic", "fontSize": 24, "fontWeight": "bold", "color": "#111"}, "encoding": {"text": {"field": "t"}}}
   ]},
  {"width": 143, "height": 142,
   "layer": [
    {"encoding": {"x": {"field": "x", "type": "quantitative", "scale": {"domain": [0, 120], "range": [0, 98], "nice": false}, "axis": {"title": "FS-PL-FSCLogMax", "values": [0,6,12,18,24,30,36,42,48,54,60,66,72,78,84,90,96,102,108,114,120], "labelExpr": "datum.value % 30 === 0 ? datum.label : ''", "labelFontSize": 5, "titleFontSize": 6.5, "tickSize": 2.5, "titlePadding": 1}},
                  "y": {"field": "y", "type": "quantitative", "scale": {"domain": [0, 120], "range": [142, 10], "nice": false}, "axis": {"title": "FL2-P-PM2Max", "values": [0,6,12,18,24,30,36,42,48,54,60,66,72,78,84,90,96,102,108,114,120], "labelExpr": "datum.value % 30 === 0 ? datum.label : ''", "labelFontSize": 5, "titleFontSize": 6.5, "tickSize": 2.5, "titlePadding": 1}}},
     "layer": [
      {"data": {"name": "scC"}, "mark": {"type": "circle", "size": 9, "color": "#555", "opacity": 0.85}},
      {"data": {"name": "gates"}, "transform": [{"filter": "datum.p == 'C'"}], "mark": {"type": "rect", "fill": null, "stroke": "#222", "strokeWidth": 1.3}, "encoding": {"x2": {"field": "x2"}, "y2": {"field": "y2"}}},
      {"data": {"name": "handles"}, "transform": [{"filter": "datum.p == 'C'"}], "mark": {"type": "point", "shape": "circle", "size": 10, "filled": true, "fill": "white", "stroke": "#222", "strokeWidth": 0.8, "opacity": 1}},
      {"data": {"name": "r1"}, "transform": [{"filter": "datum.p == 'C'"}], "mark": {"type": "text", "fontSize": 7, "color": "#333"}, "encoding": {"text": {"value": "R1"}}}
     ]},
    {"data": {"name": "txt"}, "transform": [{"filter": "datum.p == 'C'"}], "mark": {"type": "text", "align": "left", "baseline": "middle", "fontSize": 8, "color": "#555", "dx": -20},
     "encoding": {"x": {"datum": 0, "type": "quantitative"}, "y": {"field": "l", "type": "quantitative", "scale": {"domain": [0, 18], "range": [178, 430], "nice": false, "zero": false}, "axis": null}, "text": {"field": "t"}}}
   ],
   "resolve": {"scale": {"y": "independent"}}},
  {"width": 300, "height": 372,
   "data": {"name": "hC"},
   "encoding": {"x": {"field": "x", "type": "quantitative", "scale": {"domain": [0, 180], "range": [0, 300], "nice": false}, "axis": {"title": "Channels (FL2-P-PM2Max)", "values": [0,8,16,24,32,40,48,56,64,72,80,88,96,104,112,120,128,136,144,152,160,168,176], "labelExpr": "datum.value % 40 === 0 ? datum.label : ''"}},
                "y": {"field": "y", "type": "quantitative", "stack": null, "scale": {"domain": [0, 60.5], "range": [372, 28], "nice": false}, "axis": {"title": "Number", "values": [0,2,4,6,8,10,12,14,16,18,20,22,24,26,28,30,32,34,36,38,40,42,44,46,48,50,52,54,56,58,60], "labelExpr": "datum.value % 10 === 0 && datum.value < 60 ? datum.label : ''"}}},
   "layer": [
    {"transform": [{"filter": "datum.s == 'S-Phase'"}], "mark": {"type": "area", "clip": true, "opacity": 1, "interpolate": "monotone"}, "encoding": {"color": {"field": "s", "type": "nominal", "scale": {"domain": ["G0G1", "G2M", "S-Phase"], "range": ["#505050", "#505050", "#e4e4e4"]}, "legend": {"title": null, "legendX": 197, "legendY": 5}}}},
    {"transform": [{"filter": "datum.s == 'S-Phase'"}], "mark": {"type": "area", "clip": true, "opacity": 1, "interpolate": "monotone", "fill": {"gradient": "linear", "x1": 0, "y1": 0.715, "x2": 1, "y2": 0.285, "stops": [{"offset":0,"color":"#808080"},{"offset":0.01,"color":"#fff"},{"offset":0.0233,"color":"#fff"},{"offset":0.0333,"color":"#808080"},{"offset":0.0433,"color":"#fff"},{"offset":0.0567,"color":"#fff"},{"offset":0.0667,"color":"#808080"},{"offset":0.0767,"color":"#fff"},{"offset":0.09,"color":"#fff"},{"offset":0.1,"color":"#808080"},{"offset":0.11,"color":"#fff"},{"offset":0.1233,"color":"#fff"},{"offset":0.1333,"color":"#808080"},{"offset":0.1433,"color":"#fff"},{"offset":0.1567,"color":"#fff"},{"offset":0.1667,"color":"#808080"},{"offset":0.1767,"color":"#fff"},{"offset":0.19,"color":"#fff"},{"offset":0.2,"color":"#808080"},{"offset":0.21,"color":"#fff"},{"offset":0.2233,"color":"#fff"},{"offset":0.2333,"color":"#808080"},{"offset":0.2433,"color":"#fff"},{"offset":0.2567,"color":"#fff"},{"offset":0.2667,"color":"#808080"},{"offset":0.2767,"color":"#fff"},{"offset":0.29,"color":"#fff"},{"offset":0.3,"color":"#808080"},{"offset":0.31,"color":"#fff"},{"offset":0.3233,"color":"#fff"},{"offset":0.3333,"color":"#808080"},{"offset":0.3433,"color":"#fff"},{"offset":0.3567,"color":"#fff"},{"offset":0.3667,"color":"#808080"},{"offset":0.3767,"color":"#fff"},{"offset":0.39,"color":"#fff"},{"offset":0.4,"color":"#808080"},{"offset":0.41,"color":"#fff"},{"offset":0.4233,"color":"#fff"},{"offset":0.4333,"color":"#808080"},{"offset":0.4433,"color":"#fff"},{"offset":0.4567,"color":"#fff"},{"offset":0.4667,"color":"#808080"},{"offset":0.4767,"color":"#fff"},{"offset":0.49,"color":"#fff"},{"offset":0.5,"color":"#808080"},{"offset":0.51,"color":"#fff"},{"offset":0.5233,"color":"#fff"},{"offset":0.5333,"color":"#808080"},{"offset":0.5433,"color":"#fff"},{"offset":0.5567,"color":"#fff"},{"offset":0.5667,"color":"#808080"},{"offset":0.5767,"color":"#fff"},{"offset":0.59,"color":"#fff"},{"offset":0.6,"color":"#808080"},{"offset":0.61,"color":"#fff"},{"offset":0.6233,"color":"#fff"},{"offset":0.6333,"color":"#808080"},{"offset":0.6433,"color":"#fff"},{"offset":0.6567,"color":"#fff"},{"offset":0.6667,"color":"#808080"},{"offset":0.6767,"color":"#fff"},{"offset":0.69,"color":"#fff"},{"offset":0.7,"color":"#808080"},{"offset":0.71,"color":"#fff"},{"offset":0.7233,"color":"#fff"},{"offset":0.7333,"color":"#808080"},{"offset":0.7433,"color":"#fff"},{"offset":0.7567,"color":"#fff"},{"offset":0.7667,"color":"#808080"},{"offset":0.7767,"color":"#fff"},{"offset":0.79,"color":"#fff"},{"offset":0.8,"color":"#808080"},{"offset":0.81,"color":"#fff"},{"offset":0.8233,"color":"#fff"},{"offset":0.8333,"color":"#808080"},{"offset":0.8433,"color":"#fff"},{"offset":0.8567,"color":"#fff"},{"offset":0.8667,"color":"#808080"},{"offset":0.8767,"color":"#fff"},{"offset":0.89,"color":"#fff"},{"offset":0.9,"color":"#808080"},{"offset":0.91,"color":"#fff"},{"offset":0.9233,"color":"#fff"},{"offset":0.9333,"color":"#808080"},{"offset":0.9433,"color":"#fff"},{"offset":0.9567,"color":"#fff"},{"offset":0.9667,"color":"#808080"},{"offset":0.9767,"color":"#fff"},{"offset":0.99,"color":"#fff"},{"offset":1,"color":"#808080"}]}}},
    {"transform": [{"filter": "datum.s == 'G0G1' || datum.s == 'G2M'"}], "mark": {"type": "area", "clip": true, "opacity": 1, "interpolate": "monotone", "stroke": "#111", "strokeWidth": 0.7}, "encoding": {"color": {"field": "s", "type": "nominal", "scale": {"domain": ["G0G1", "G2M", "S-Phase"], "range": ["#505050", "#505050", "#e4e4e4"]}, "legend": {"title": null, "legendX": 197, "legendY": 5}}}},
    {"transform": [{"filter": "datum.s == 'S-Phase'"}], "mark": {"type": "line", "clip": true, "interpolate": "monotone", "color": "#111", "strokeWidth": 0.7}},
    {"transform": [{"filter": "datum.s == 'o'"}], "mark": {"type": "line", "clip": true, "color": "#555", "strokeWidth": 0.8}},
    {"transform": [{"filter": "datum.s == 'f'"}], "mark": {"type": "line", "clip": true, "interpolate": "monotone", "color": "#222", "strokeWidth": 2.4}},
    {"transform": [{"filter": "datum.s == 'f'"}], "mark": {"type": "line", "clip": true, "interpolate": "monotone", "color": "#fff", "strokeWidth": 0.9}},
    {"data": {"name": "ann"}, "transform": [{"filter": "datum.p == 'C' && datum.a == 'l'"}], "mark": {"type": "text", "align": "left", "baseline": "middle", "fontSize": 10.5, "fontWeight": "bold", "color": "#222"}, "encoding": {"text": {"field": "t"}}},
    {"data": {"name": "ann"}, "transform": [{"filter": "datum.p == 'C' && datum.a == 'r'"}], "mark": {"type": "text", "align": "right", "baseline": "middle", "fontSize": 10.5, "fontWeight": "bold", "color": "#222"}, "encoding": {"text": {"field": "t"}}},
    {"data": {"name": "ann"}, "transform": [{"filter": "datum.p == 'C' && datum.a == 'b'"}], "mark": {"type": "text", "align": "left", "baseline": "alphabetic", "fontSize": 24, "fontWeight": "bold", "color": "#111"}, "encoding": {"text": {"field": "t"}}}
   ]}
 ], "spacing": 0, "bounds": "flush", "resolve": {"scale": {"color": "independent"}, "legend": {"color": "independent"}}},
 {"hconcat": [
  {"width": 29, "height": 430, "data": {"values": [{"a": 1}]}, "mark": {"type": "rect", "opacity": 0}, "encoding": {"x": {"datum": 0, "type": "quantitative", "scale": {"domain": [0, 1]}, "axis": null}, "x2": {"datum": 1}, "y": {"datum": 0, "type": "quantitative", "scale": {"domain": [0, 1]}, "axis": null}, "y2": {"datum": 1}}},
  {"width": 143, "height": 147,
   "layer": [
    {"encoding": {"x": {"field": "x", "type": "quantitative", "scale": {"domain": [0, 120], "range": [0, 102], "nice": false}, "axis": {"title": "FS-PL-FSCLogMax", "values": [0,6,12,18,24,30,36,42,48,54,60,66,72,78,84,90,96,102,108,114,120], "labelExpr": "datum.value % 30 === 0 ? datum.label : ''", "labelFontSize": 5, "titleFontSize": 6.5, "tickSize": 2.5, "titlePadding": 1}},
                  "y": {"field": "y", "type": "quantitative", "scale": {"domain": [0, 120], "range": [147, 17], "nice": false}, "axis": {"title": "FL2-P-PM2Max", "values": [0,6,12,18,24,30,36,42,48,54,60,66,72,78,84,90,96,102,108,114,120], "labelExpr": "datum.value % 30 === 0 ? datum.label : ''", "labelFontSize": 5, "titleFontSize": 6.5, "tickSize": 2.5, "titlePadding": 1}}},
     "layer": [
      {"data": {"name": "scD"}, "mark": {"type": "circle", "size": 9, "color": "#555", "opacity": 0.85}},
      {"data": {"name": "gates"}, "transform": [{"filter": "datum.p == 'D'"}], "mark": {"type": "rect", "fill": null, "stroke": "#222", "strokeWidth": 1.3}, "encoding": {"x2": {"field": "x2"}, "y2": {"field": "y2"}}},
      {"data": {"name": "r1"}, "transform": [{"filter": "datum.p == 'D'"}], "mark": {"type": "text", "fontSize": 7, "color": "#333"}, "encoding": {"text": {"value": "R1"}}}
     ]},
    {"data": {"name": "txt"}, "transform": [{"filter": "datum.p == 'D'"}], "mark": {"type": "text", "align": "left", "baseline": "middle", "fontSize": 8, "color": "#555", "dx": -26},
     "encoding": {"x": {"datum": 0, "type": "quantitative"}, "y": {"field": "l", "type": "quantitative", "scale": {"domain": [0, 18], "range": [178, 419.2], "nice": false, "zero": false}, "axis": null}, "text": {"field": "t"}}}
   ],
   "resolve": {"scale": {"y": "independent"}}},
  {"width": 506, "height": 362,
   "data": {"name": "hD"},
   "encoding": {"x": {"field": "x", "type": "quantitative", "scale": {"domain": [0, 150], "range": [0, 305], "nice": false}, "axis": {"title": "Channels (FL2-P-PM2Max)", "values": [0,6,12,18,24,30,36,42,48,54,60,66,72,78,84,90,96,102,108,114,120,126,132,138,144,150], "labelExpr": "datum.value % 30 === 0 ? datum.label : ''"}},
                "y": {"field": "y", "type": "quantitative", "stack": null, "scale": {"domain": [0, 241.5], "range": [362, 37], "nice": false}, "axis": {"title": "Number", "values": [0,10,20,30,40,50,60,70,80,90,100,110,120,130,140,150,160,170,180,190,200,210,220,230,240], "labelExpr": "datum.value % 50 === 0 ? datum.label : ''"}}},
   "layer": [
    {"transform": [{"filter": "datum.s == 'S-Phase'"}], "mark": {"type": "area", "clip": true, "opacity": 1, "interpolate": "monotone"}, "encoding": {"color": {"field": "s", "type": "nominal", "scale": {"domain": ["G0G1", "G2M", "S-Phase"], "range": ["#505050", "#505050", "#e4e4e4"]}, "legend": {"title": null, "legendX": 205, "legendY": 15}}}},
    {"transform": [{"filter": "datum.s == 'S-Phase'"}], "mark": {"type": "area", "clip": true, "opacity": 1, "interpolate": "monotone", "fill": {"gradient": "linear", "x1": 0, "y1": 0.6, "x2": 1, "y2": 0.4, "stops": [{"offset":0,"color":"#808080"},{"offset":0.01,"color":"#fff"},{"offset":0.0233,"color":"#fff"},{"offset":0.0333,"color":"#808080"},{"offset":0.0433,"color":"#fff"},{"offset":0.0567,"color":"#fff"},{"offset":0.0667,"color":"#808080"},{"offset":0.0767,"color":"#fff"},{"offset":0.09,"color":"#fff"},{"offset":0.1,"color":"#808080"},{"offset":0.11,"color":"#fff"},{"offset":0.1233,"color":"#fff"},{"offset":0.1333,"color":"#808080"},{"offset":0.1433,"color":"#fff"},{"offset":0.1567,"color":"#fff"},{"offset":0.1667,"color":"#808080"},{"offset":0.1767,"color":"#fff"},{"offset":0.19,"color":"#fff"},{"offset":0.2,"color":"#808080"},{"offset":0.21,"color":"#fff"},{"offset":0.2233,"color":"#fff"},{"offset":0.2333,"color":"#808080"},{"offset":0.2433,"color":"#fff"},{"offset":0.2567,"color":"#fff"},{"offset":0.2667,"color":"#808080"},{"offset":0.2767,"color":"#fff"},{"offset":0.29,"color":"#fff"},{"offset":0.3,"color":"#808080"},{"offset":0.31,"color":"#fff"},{"offset":0.3233,"color":"#fff"},{"offset":0.3333,"color":"#808080"},{"offset":0.3433,"color":"#fff"},{"offset":0.3567,"color":"#fff"},{"offset":0.3667,"color":"#808080"},{"offset":0.3767,"color":"#fff"},{"offset":0.39,"color":"#fff"},{"offset":0.4,"color":"#808080"},{"offset":0.41,"color":"#fff"},{"offset":0.4233,"color":"#fff"},{"offset":0.4333,"color":"#808080"},{"offset":0.4433,"color":"#fff"},{"offset":0.4567,"color":"#fff"},{"offset":0.4667,"color":"#808080"},{"offset":0.4767,"color":"#fff"},{"offset":0.49,"color":"#fff"},{"offset":0.5,"color":"#808080"},{"offset":0.51,"color":"#fff"},{"offset":0.5233,"color":"#fff"},{"offset":0.5333,"color":"#808080"},{"offset":0.5433,"color":"#fff"},{"offset":0.5567,"color":"#fff"},{"offset":0.5667,"color":"#808080"},{"offset":0.5767,"color":"#fff"},{"offset":0.59,"color":"#fff"},{"offset":0.6,"color":"#808080"},{"offset":0.61,"color":"#fff"},{"offset":0.6233,"color":"#fff"},{"offset":0.6333,"color":"#808080"},{"offset":0.6433,"color":"#fff"},{"offset":0.6567,"color":"#fff"},{"offset":0.6667,"color":"#808080"},{"offset":0.6767,"color":"#fff"},{"offset":0.69,"color":"#fff"},{"offset":0.7,"color":"#808080"},{"offset":0.71,"color":"#fff"},{"offset":0.7233,"color":"#fff"},{"offset":0.7333,"color":"#808080"},{"offset":0.7433,"color":"#fff"},{"offset":0.7567,"color":"#fff"},{"offset":0.7667,"color":"#808080"},{"offset":0.7767,"color":"#fff"},{"offset":0.79,"color":"#fff"},{"offset":0.8,"color":"#808080"},{"offset":0.81,"color":"#fff"},{"offset":0.8233,"color":"#fff"},{"offset":0.8333,"color":"#808080"},{"offset":0.8433,"color":"#fff"},{"offset":0.8567,"color":"#fff"},{"offset":0.8667,"color":"#808080"},{"offset":0.8767,"color":"#fff"},{"offset":0.89,"color":"#fff"},{"offset":0.9,"color":"#808080"},{"offset":0.91,"color":"#fff"},{"offset":0.9233,"color":"#fff"},{"offset":0.9333,"color":"#808080"},{"offset":0.9433,"color":"#fff"},{"offset":0.9567,"color":"#fff"},{"offset":0.9667,"color":"#808080"},{"offset":0.9767,"color":"#fff"},{"offset":0.99,"color":"#fff"},{"offset":1,"color":"#808080"}]}}},
    {"transform": [{"filter": "datum.s == 'G0G1' || datum.s == 'G2M'"}], "mark": {"type": "area", "clip": true, "opacity": 1, "interpolate": "monotone", "stroke": "#111", "strokeWidth": 0.7}, "encoding": {"color": {"field": "s", "type": "nominal", "scale": {"domain": ["G0G1", "G2M", "S-Phase"], "range": ["#505050", "#505050", "#e4e4e4"]}, "legend": {"title": null, "legendX": 205, "legendY": 15}}}},
    {"transform": [{"filter": "datum.s == 'S-Phase'"}], "mark": {"type": "line", "clip": true, "interpolate": "monotone", "color": "#111", "strokeWidth": 0.7}},
    {"transform": [{"filter": "datum.s == 'o'"}], "mark": {"type": "line", "clip": true, "color": "#555", "strokeWidth": 0.8}},
    {"transform": [{"filter": "datum.s == 'f'"}], "mark": {"type": "line", "clip": true, "interpolate": "monotone", "color": "#222", "strokeWidth": 2.4}},
    {"transform": [{"filter": "datum.s == 'f'"}], "mark": {"type": "line", "clip": true, "interpolate": "monotone", "color": "#fff", "strokeWidth": 0.9}},
    {"data": {"name": "ann"}, "transform": [{"filter": "datum.p == 'D' && datum.a == 'l'"}], "mark": {"type": "text", "align": "left", "baseline": "middle", "fontSize": 10.5, "fontWeight": "bold", "color": "#222"}, "encoding": {"text": {"field": "t"}}},
    {"data": {"name": "ann"}, "transform": [{"filter": "datum.p == 'D' && datum.a == 'r'"}], "mark": {"type": "text", "align": "right", "baseline": "middle", "fontSize": 10.5, "fontWeight": "bold", "color": "#222"}, "encoding": {"text": {"field": "t"}}},
    {"data": {"name": "ann"}, "transform": [{"filter": "datum.p == 'D' && datum.a == 'b'"}], "mark": {"type": "text", "align": "left", "baseline": "alphabetic", "fontSize": 24, "fontWeight": "bold", "color": "#111"}, "encoding": {"text": {"field": "t"}}}
   ]},
  {"width": 140, "height": 145,
   "layer": [
    {"encoding": {"x": {"field": "x", "type": "quantitative", "scale": {"domain": [0, 120], "range": [0, 103], "nice": false}, "axis": {"title": "FS-PL-FSCLogMax", "values": [0,6,12,18,24,30,36,42,48,54,60,66,72,78,84,90,96,102,108,114,120], "labelExpr": "datum.value % 30 === 0 ? datum.label : ''", "labelFontSize": 5, "titleFontSize": 6.5, "tickSize": 2.5, "titlePadding": 1}},
                  "y": {"field": "y", "type": "quantitative", "scale": {"domain": [0, 120], "range": [145, 8], "nice": false}, "axis": {"title": "FL2-P-PM2Max", "values": [0,6,12,18,24,30,36,42,48,54,60,66,72,78,84,90,96,102,108,114,120], "labelExpr": "datum.value % 30 === 0 ? datum.label : ''", "labelFontSize": 5, "titleFontSize": 6.5, "tickSize": 2.5, "titlePadding": 1}}},
     "layer": [
      {"data": {"name": "scE"}, "mark": {"type": "circle", "size": 9, "color": "#555", "opacity": 0.85}},
      {"data": {"name": "gates"}, "transform": [{"filter": "datum.p == 'E'"}], "mark": {"type": "rect", "fill": null, "stroke": "#222", "strokeWidth": 1.3}, "encoding": {"x2": {"field": "x2"}, "y2": {"field": "y2"}}},
      {"data": {"name": "handles"}, "transform": [{"filter": "datum.p == 'E'"}], "mark": {"type": "point", "shape": "circle", "size": 10, "filled": true, "fill": "white", "stroke": "#222", "strokeWidth": 0.8, "opacity": 1}},
      {"data": {"name": "r1"}, "transform": [{"filter": "datum.p == 'E'"}], "mark": {"type": "text", "fontSize": 7, "color": "#333"}, "encoding": {"text": {"value": "R1"}}}
     ]},
    {"data": {"name": "txt"}, "transform": [{"filter": "datum.p == 'E'"}], "mark": {"type": "text", "align": "left", "baseline": "middle", "fontSize": 8, "color": "#555", "dx": -33},
     "encoding": {"x": {"datum": 0, "type": "quantitative"}, "y": {"field": "l", "type": "quantitative", "scale": {"domain": [0, 18], "range": [171, 423], "nice": false, "zero": false}, "axis": null}, "text": {"field": "t"}}}
   ],
   "resolve": {"scale": {"y": "independent"}}},
  {"width": 304, "height": 365,
   "data": {"name": "hE"},
   "encoding": {"x": {"field": "x", "type": "quantitative", "scale": {"domain": [0, 180], "range": [0, 304], "nice": false}, "axis": {"title": "Channels (FL2-P-PM2Max)", "values": [0,8,16,24,32,40,48,56,64,72,80,88,96,104,112,120,128,136,144,152,160,168,176], "labelExpr": "datum.value % 40 === 0 ? datum.label : ''"}},
                "y": {"field": "y", "type": "quantitative", "stack": null, "scale": {"domain": [0, 51], "range": [365, 27], "nice": false}, "axis": {"title": "Number", "values": [0,2,4,6,8,10,12,14,16,18,20,22,24,26,28,30,32,34,36,38,40,42,44,46,48,50], "labelExpr": "datum.value % 10 === 0 && datum.value < 50 ? datum.label : ''"}}},
   "layer": [
    {"transform": [{"filter": "datum.s == 'S-Phase'"}], "mark": {"type": "area", "clip": true, "opacity": 1, "interpolate": "monotone"}, "encoding": {"color": {"field": "s", "type": "nominal", "scale": {"domain": ["G0G1", "G2M", "S-Phase"], "range": ["#505050", "#505050", "#e4e4e4"]}, "legend": {"title": null, "legendX": 207, "legendY": 6}}}},
    {"transform": [{"filter": "datum.s == 'S-Phase'"}], "mark": {"type": "area", "clip": true, "opacity": 1, "interpolate": "monotone", "fill": {"gradient": "linear", "x1": 0, "y1": 0.715, "x2": 1, "y2": 0.285, "stops": [{"offset":0,"color":"#808080"},{"offset":0.01,"color":"#fff"},{"offset":0.0233,"color":"#fff"},{"offset":0.0333,"color":"#808080"},{"offset":0.0433,"color":"#fff"},{"offset":0.0567,"color":"#fff"},{"offset":0.0667,"color":"#808080"},{"offset":0.0767,"color":"#fff"},{"offset":0.09,"color":"#fff"},{"offset":0.1,"color":"#808080"},{"offset":0.11,"color":"#fff"},{"offset":0.1233,"color":"#fff"},{"offset":0.1333,"color":"#808080"},{"offset":0.1433,"color":"#fff"},{"offset":0.1567,"color":"#fff"},{"offset":0.1667,"color":"#808080"},{"offset":0.1767,"color":"#fff"},{"offset":0.19,"color":"#fff"},{"offset":0.2,"color":"#808080"},{"offset":0.21,"color":"#fff"},{"offset":0.2233,"color":"#fff"},{"offset":0.2333,"color":"#808080"},{"offset":0.2433,"color":"#fff"},{"offset":0.2567,"color":"#fff"},{"offset":0.2667,"color":"#808080"},{"offset":0.2767,"color":"#fff"},{"offset":0.29,"color":"#fff"},{"offset":0.3,"color":"#808080"},{"offset":0.31,"color":"#fff"},{"offset":0.3233,"color":"#fff"},{"offset":0.3333,"color":"#808080"},{"offset":0.3433,"color":"#fff"},{"offset":0.3567,"color":"#fff"},{"offset":0.3667,"color":"#808080"},{"offset":0.3767,"color":"#fff"},{"offset":0.39,"color":"#fff"},{"offset":0.4,"color":"#808080"},{"offset":0.41,"color":"#fff"},{"offset":0.4233,"color":"#fff"},{"offset":0.4333,"color":"#808080"},{"offset":0.4433,"color":"#fff"},{"offset":0.4567,"color":"#fff"},{"offset":0.4667,"color":"#808080"},{"offset":0.4767,"color":"#fff"},{"offset":0.49,"color":"#fff"},{"offset":0.5,"color":"#808080"},{"offset":0.51,"color":"#fff"},{"offset":0.5233,"color":"#fff"},{"offset":0.5333,"color":"#808080"},{"offset":0.5433,"color":"#fff"},{"offset":0.5567,"color":"#fff"},{"offset":0.5667,"color":"#808080"},{"offset":0.5767,"color":"#fff"},{"offset":0.59,"color":"#fff"},{"offset":0.6,"color":"#808080"},{"offset":0.61,"color":"#fff"},{"offset":0.6233,"color":"#fff"},{"offset":0.6333,"color":"#808080"},{"offset":0.6433,"color":"#fff"},{"offset":0.6567,"color":"#fff"},{"offset":0.6667,"color":"#808080"},{"offset":0.6767,"color":"#fff"},{"offset":0.69,"color":"#fff"},{"offset":0.7,"color":"#808080"},{"offset":0.71,"color":"#fff"},{"offset":0.7233,"color":"#fff"},{"offset":0.7333,"color":"#808080"},{"offset":0.7433,"color":"#fff"},{"offset":0.7567,"color":"#fff"},{"offset":0.7667,"color":"#808080"},{"offset":0.7767,"color":"#fff"},{"offset":0.79,"color":"#fff"},{"offset":0.8,"color":"#808080"},{"offset":0.81,"color":"#fff"},{"offset":0.8233,"color":"#fff"},{"offset":0.8333,"color":"#808080"},{"offset":0.8433,"color":"#fff"},{"offset":0.8567,"color":"#fff"},{"offset":0.8667,"color":"#808080"},{"offset":0.8767,"color":"#fff"},{"offset":0.89,"color":"#fff"},{"offset":0.9,"color":"#808080"},{"offset":0.91,"color":"#fff"},{"offset":0.9233,"color":"#fff"},{"offset":0.9333,"color":"#808080"},{"offset":0.9433,"color":"#fff"},{"offset":0.9567,"color":"#fff"},{"offset":0.9667,"color":"#808080"},{"offset":0.9767,"color":"#fff"},{"offset":0.99,"color":"#fff"},{"offset":1,"color":"#808080"}]}}},
    {"transform": [{"filter": "datum.s == 'G0G1' || datum.s == 'G2M'"}], "mark": {"type": "area", "clip": true, "opacity": 1, "interpolate": "monotone", "stroke": "#111", "strokeWidth": 0.7}, "encoding": {"color": {"field": "s", "type": "nominal", "scale": {"domain": ["G0G1", "G2M", "S-Phase"], "range": ["#505050", "#505050", "#e4e4e4"]}, "legend": {"title": null, "legendX": 207, "legendY": 6}}}},
    {"transform": [{"filter": "datum.s == 'S-Phase'"}], "mark": {"type": "line", "clip": true, "interpolate": "monotone", "color": "#111", "strokeWidth": 0.7}},
    {"transform": [{"filter": "datum.s == 'o'"}], "mark": {"type": "line", "clip": true, "color": "#555", "strokeWidth": 0.8}},
    {"transform": [{"filter": "datum.s == 'f'"}], "mark": {"type": "line", "clip": true, "interpolate": "monotone", "color": "#222", "strokeWidth": 2.4}},
    {"transform": [{"filter": "datum.s == 'f'"}], "mark": {"type": "line", "clip": true, "interpolate": "monotone", "color": "#fff", "strokeWidth": 0.9}},
    {"data": {"name": "ann"}, "transform": [{"filter": "datum.p == 'E' && datum.a == 'l'"}], "mark": {"type": "text", "align": "left", "baseline": "middle", "fontSize": 10.5, "fontWeight": "bold", "color": "#222"}, "encoding": {"text": {"field": "t"}}},
    {"data": {"name": "ann"}, "transform": [{"filter": "datum.p == 'E' && datum.a == 'r'"}], "mark": {"type": "text", "align": "right", "baseline": "middle", "fontSize": 10.5, "fontWeight": "bold", "color": "#222"}, "encoding": {"text": {"field": "t"}}},
    {"data": {"name": "ann"}, "transform": [{"filter": "datum.p == 'E' && datum.a == 'b'"}], "mark": {"type": "text", "align": "left", "baseline": "alphabetic", "fontSize": 24, "fontWeight": "bold", "color": "#111"}, "encoding": {"text": {"field": "t"}}}
   ]}
 ], "spacing": 0, "bounds": "flush", "resolve": {"scale": {"color": "independent"}, "legend": {"color": "independent"}}}
],
"spacing": 0,
"resolve": {"scale": {"color": "independent"}, "legend": {"color": "independent"}}
}
